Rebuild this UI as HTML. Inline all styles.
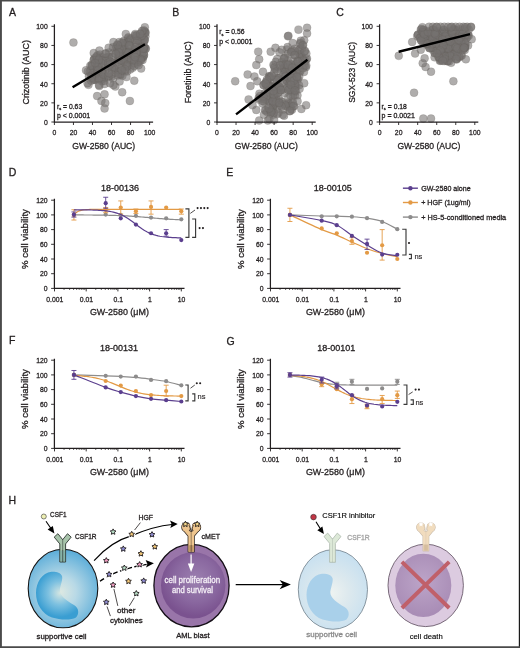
<!DOCTYPE html><html><head><meta charset="utf-8"><style>html,body{margin:0;padding:0;background:#fff;}svg{display:block;will-change:transform;} text{font-family:"Liberation Sans", sans-serif;}</style></head><body><svg width="520" height="648" viewBox="0 0 520 648" font-family='"Liberation Sans", sans-serif'>
<rect x="0" y="0" width="520" height="648" fill="#fff"/>
<text x="9" y="16.2" font-size="10.5" text-anchor="start" fill="#231f20" font-weight="normal" stroke="#231f20" stroke-width="0.3">A</text>
<text x="172.2" y="16.2" font-size="10.5" text-anchor="start" fill="#231f20" font-weight="normal" stroke="#231f20" stroke-width="0.3">B</text>
<text x="336.3" y="16.2" font-size="10.5" text-anchor="start" fill="#231f20" font-weight="normal" stroke="#231f20" stroke-width="0.3">C</text>
<text x="8.7" y="176.3" font-size="10.5" text-anchor="start" fill="#231f20" font-weight="normal" stroke="#231f20" stroke-width="0.3">D</text>
<text x="226.3" y="176.3" font-size="10.5" text-anchor="start" fill="#231f20" font-weight="normal" stroke="#231f20" stroke-width="0.3">E</text>
<text x="9.0" y="344.3" font-size="10.5" text-anchor="start" fill="#231f20" font-weight="normal" stroke="#231f20" stroke-width="0.3">F</text>
<text x="226.6" y="344.6" font-size="10.5" text-anchor="start" fill="#231f20" font-weight="normal" stroke="#231f20" stroke-width="0.3">G</text>
<g fill="#767270" fill-opacity="0.58" stroke="#5a5654" stroke-opacity="0.35" stroke-width="0.5"><circle cx="113.47" cy="52.88" r="4.0"/><circle cx="141.32" cy="57.74" r="4.0"/><circle cx="116.74" cy="51.45" r="4.0"/><circle cx="97.67" cy="55.35" r="4.0"/><circle cx="123.95" cy="40.83" r="4.0"/><circle cx="92.32" cy="66.13" r="4.0"/><circle cx="144.74" cy="31.95" r="4.0"/><circle cx="125.37" cy="49.99" r="4.0"/><circle cx="97.99" cy="69.30" r="4.0"/><circle cx="117.41" cy="48.72" r="4.0"/><circle cx="116.27" cy="47.57" r="4.0"/><circle cx="113.76" cy="67.43" r="4.0"/><circle cx="136.36" cy="45.23" r="4.0"/><circle cx="105.38" cy="69.94" r="4.0"/><circle cx="103.83" cy="78.18" r="4.0"/><circle cx="132.00" cy="61.11" r="4.0"/><circle cx="136.74" cy="61.83" r="4.0"/><circle cx="143.32" cy="38.02" r="4.0"/><circle cx="140.50" cy="57.52" r="4.0"/><circle cx="132.72" cy="67.86" r="4.0"/><circle cx="91.91" cy="64.62" r="4.0"/><circle cx="143.67" cy="42.63" r="4.0"/><circle cx="93.73" cy="69.07" r="4.0"/><circle cx="92.73" cy="78.71" r="4.0"/><circle cx="119.78" cy="58.68" r="4.0"/><circle cx="93.64" cy="60.06" r="4.0"/><circle cx="99.33" cy="67.86" r="4.0"/><circle cx="144.08" cy="40.29" r="4.0"/><circle cx="99.20" cy="61.43" r="4.0"/><circle cx="137.20" cy="48.64" r="4.0"/><circle cx="99.35" cy="68.46" r="4.0"/><circle cx="132.38" cy="64.81" r="4.0"/><circle cx="104.26" cy="78.01" r="4.0"/><circle cx="108.71" cy="58.39" r="4.0"/><circle cx="143.38" cy="56.81" r="4.0"/><circle cx="97.56" cy="73.84" r="4.0"/><circle cx="140.39" cy="39.54" r="4.0"/><circle cx="101.49" cy="72.00" r="4.0"/><circle cx="138.84" cy="50.62" r="4.0"/><circle cx="111.64" cy="76.44" r="4.0"/><circle cx="121.97" cy="66.64" r="4.0"/><circle cx="90.83" cy="70.00" r="4.0"/><circle cx="123.03" cy="67.32" r="4.0"/><circle cx="113.08" cy="78.68" r="4.0"/><circle cx="97.17" cy="62.75" r="4.0"/><circle cx="120.54" cy="75.01" r="4.0"/><circle cx="144.64" cy="47.86" r="4.0"/><circle cx="127.57" cy="51.60" r="4.0"/><circle cx="95.05" cy="79.99" r="4.0"/><circle cx="130.27" cy="45.44" r="4.0"/><circle cx="139.94" cy="36.79" r="4.0"/><circle cx="137.73" cy="52.20" r="4.0"/><circle cx="123.66" cy="62.05" r="4.0"/><circle cx="121.16" cy="50.34" r="4.0"/><circle cx="145.40" cy="36.34" r="4.0"/><circle cx="129.75" cy="61.73" r="4.0"/><circle cx="130.15" cy="51.78" r="4.0"/><circle cx="115.16" cy="69.91" r="4.0"/><circle cx="127.99" cy="56.11" r="4.0"/><circle cx="101.87" cy="81.22" r="4.0"/><circle cx="98.72" cy="73.04" r="4.0"/><circle cx="140.23" cy="47.70" r="4.0"/><circle cx="98.48" cy="59.54" r="4.0"/><circle cx="138.72" cy="61.94" r="4.0"/><circle cx="121.19" cy="65.45" r="4.0"/><circle cx="136.18" cy="37.95" r="4.0"/><circle cx="103.11" cy="73.07" r="4.0"/><circle cx="113.37" cy="67.59" r="4.0"/><circle cx="99.40" cy="60.41" r="4.0"/><circle cx="123.70" cy="56.28" r="4.0"/><circle cx="128.59" cy="52.32" r="4.0"/><circle cx="95.08" cy="79.38" r="4.0"/><circle cx="123.90" cy="58.73" r="4.0"/><circle cx="123.95" cy="47.95" r="4.0"/><circle cx="127.17" cy="71.50" r="4.0"/><circle cx="114.81" cy="72.57" r="4.0"/><circle cx="102.84" cy="63.94" r="4.0"/><circle cx="127.93" cy="54.91" r="4.0"/><circle cx="123.04" cy="42.73" r="4.0"/><circle cx="141.81" cy="44.47" r="4.0"/><circle cx="94.44" cy="58.37" r="4.0"/><circle cx="109.01" cy="52.41" r="4.0"/><circle cx="138.67" cy="40.63" r="4.0"/><circle cx="142.50" cy="57.84" r="4.0"/><circle cx="125.21" cy="71.22" r="4.0"/><circle cx="129.38" cy="39.52" r="4.0"/><circle cx="124.64" cy="44.72" r="4.0"/><circle cx="144.64" cy="31.30" r="4.0"/><circle cx="137.28" cy="63.80" r="4.0"/><circle cx="119.25" cy="42.11" r="4.0"/><circle cx="95.06" cy="74.12" r="4.0"/><circle cx="117.26" cy="44.41" r="4.0"/><circle cx="136.35" cy="46.18" r="4.0"/><circle cx="142.59" cy="56.35" r="4.0"/><circle cx="99.84" cy="54.59" r="4.0"/><circle cx="124.48" cy="54.79" r="4.0"/><circle cx="136.56" cy="52.87" r="4.0"/><circle cx="105.17" cy="62.11" r="4.0"/><circle cx="136.66" cy="35.27" r="4.0"/><circle cx="143.93" cy="54.72" r="4.0"/><circle cx="120.59" cy="71.42" r="4.0"/><circle cx="118.40" cy="55.80" r="4.0"/><circle cx="143.99" cy="55.14" r="4.0"/><circle cx="119.99" cy="56.43" r="4.0"/><circle cx="118.57" cy="60.42" r="4.0"/><circle cx="143.25" cy="34.09" r="4.0"/><circle cx="102.66" cy="57.35" r="4.0"/><circle cx="94.26" cy="59.39" r="4.0"/><circle cx="134.91" cy="35.27" r="4.0"/><circle cx="114.89" cy="65.41" r="4.0"/><circle cx="98.22" cy="70.06" r="4.0"/><circle cx="127.32" cy="65.16" r="4.0"/><circle cx="101.56" cy="71.59" r="4.0"/><circle cx="118.07" cy="59.23" r="4.0"/><circle cx="108.95" cy="60.44" r="4.0"/><circle cx="118.01" cy="73.55" r="4.0"/><circle cx="124.45" cy="54.44" r="4.0"/><circle cx="137.01" cy="50.19" r="4.0"/><circle cx="130.49" cy="39.92" r="4.0"/><circle cx="102.08" cy="76.79" r="4.0"/><circle cx="135.89" cy="60.02" r="4.0"/><circle cx="87.82" cy="71.42" r="4.0"/><circle cx="116.44" cy="46.37" r="4.0"/><circle cx="97.92" cy="78.16" r="4.0"/><circle cx="93.03" cy="79.87" r="4.0"/><circle cx="119.33" cy="55.20" r="4.0"/><circle cx="120.34" cy="74.23" r="4.0"/><circle cx="97.66" cy="71.27" r="4.0"/><circle cx="106.06" cy="57.67" r="4.0"/><circle cx="117.18" cy="59.58" r="4.0"/><circle cx="128.15" cy="38.18" r="4.0"/><circle cx="97.47" cy="58.35" r="4.0"/><circle cx="130.41" cy="60.86" r="4.0"/><circle cx="98.29" cy="73.28" r="4.0"/><circle cx="139.49" cy="40.38" r="4.0"/><circle cx="128.36" cy="37.33" r="4.0"/><circle cx="123.92" cy="60.90" r="4.0"/><circle cx="122.16" cy="55.75" r="4.0"/><circle cx="144.77" cy="40.21" r="4.0"/><circle cx="130.71" cy="41.60" r="4.0"/><circle cx="134.85" cy="60.84" r="4.0"/><circle cx="139.69" cy="36.34" r="4.0"/><circle cx="127.78" cy="42.16" r="4.0"/><circle cx="131.93" cy="60.84" r="4.0"/><circle cx="106.94" cy="57.58" r="4.0"/><circle cx="124.47" cy="49.56" r="4.0"/><circle cx="126.08" cy="64.35" r="4.0"/><circle cx="125.71" cy="52.37" r="4.0"/><circle cx="118.23" cy="61.67" r="4.0"/><circle cx="145.79" cy="48.62" r="4.0"/><circle cx="128.16" cy="42.44" r="4.0"/><circle cx="123.09" cy="43.63" r="4.0"/><circle cx="101.92" cy="61.05" r="4.0"/><circle cx="89.75" cy="71.71" r="4.0"/><circle cx="108.94" cy="76.72" r="4.0"/><circle cx="119.23" cy="55.56" r="4.0"/><circle cx="143.85" cy="52.45" r="4.0"/><circle cx="145.50" cy="48.83" r="4.0"/><circle cx="122.04" cy="42.57" r="4.0"/><circle cx="96.21" cy="57.43" r="4.0"/><circle cx="96.75" cy="56.20" r="4.0"/><circle cx="142.56" cy="60.06" r="4.0"/><circle cx="117.86" cy="50.91" r="4.0"/><circle cx="108.35" cy="67.04" r="4.0"/><circle cx="125.44" cy="52.83" r="4.0"/><circle cx="104.24" cy="81.08" r="4.0"/><circle cx="101.23" cy="79.60" r="4.0"/><circle cx="145.13" cy="33.00" r="4.0"/><circle cx="112.12" cy="57.12" r="4.0"/><circle cx="129.43" cy="57.60" r="4.0"/><circle cx="144.54" cy="39.60" r="4.0"/><circle cx="122.40" cy="75.86" r="4.0"/><circle cx="123.61" cy="58.26" r="4.0"/><circle cx="98.79" cy="79.12" r="4.0"/><circle cx="117.94" cy="75.38" r="4.0"/><circle cx="112.91" cy="47.29" r="4.0"/><circle cx="113.66" cy="68.26" r="4.0"/><circle cx="121.13" cy="60.13" r="4.0"/><circle cx="132.69" cy="54.38" r="4.0"/><circle cx="145.65" cy="32.58" r="4.0"/><circle cx="130.11" cy="69.49" r="4.0"/><circle cx="133.06" cy="49.51" r="4.0"/><circle cx="107.97" cy="67.77" r="4.0"/><circle cx="127.20" cy="52.61" r="4.0"/><circle cx="121.69" cy="49.09" r="4.0"/><circle cx="140.82" cy="36.39" r="4.0"/><circle cx="102.76" cy="59.83" r="4.0"/><circle cx="119.27" cy="49.19" r="4.0"/><circle cx="108.79" cy="57.08" r="4.0"/><circle cx="99.20" cy="64.04" r="4.0"/><circle cx="130.73" cy="38.47" r="4.0"/><circle cx="91.16" cy="75.62" r="4.0"/><circle cx="134.53" cy="49.57" r="4.0"/><circle cx="111.82" cy="68.47" r="4.0"/><circle cx="134.57" cy="62.74" r="4.0"/><circle cx="105.97" cy="53.45" r="4.0"/><circle cx="112.01" cy="62.72" r="4.0"/><circle cx="91.40" cy="77.52" r="4.0"/><circle cx="120.07" cy="56.75" r="4.0"/><circle cx="127.22" cy="66.36" r="4.0"/><circle cx="91.59" cy="66.11" r="4.0"/><circle cx="129.56" cy="45.94" r="4.0"/><circle cx="103.47" cy="74.42" r="4.0"/><circle cx="108.39" cy="75.74" r="4.0"/><circle cx="128.63" cy="52.39" r="4.0"/><circle cx="140.98" cy="33.23" r="4.0"/><circle cx="140.68" cy="59.17" r="4.0"/><circle cx="134.17" cy="66.06" r="4.0"/><circle cx="105.52" cy="61.16" r="4.0"/><circle cx="141.94" cy="35.57" r="4.0"/><circle cx="101.42" cy="63.11" r="4.0"/><circle cx="108.35" cy="63.03" r="4.0"/><circle cx="110.12" cy="61.78" r="4.0"/><circle cx="133.82" cy="53.87" r="4.0"/><circle cx="136.13" cy="52.72" r="4.0"/><circle cx="118.89" cy="52.48" r="4.0"/><circle cx="143.81" cy="48.15" r="4.0"/><circle cx="91.73" cy="77.59" r="4.0"/><circle cx="125.07" cy="69.12" r="4.0"/><circle cx="110.05" cy="64.35" r="4.0"/><circle cx="143.92" cy="47.06" r="4.0"/><circle cx="115.91" cy="54.04" r="4.0"/><circle cx="129.32" cy="45.21" r="4.0"/><circle cx="140.77" cy="60.59" r="4.0"/><circle cx="135.54" cy="47.35" r="4.0"/><circle cx="137.15" cy="40.16" r="4.0"/><circle cx="135.98" cy="35.88" r="4.0"/><circle cx="143.30" cy="48.72" r="4.0"/><circle cx="117.69" cy="45.11" r="4.0"/><circle cx="134.12" cy="60.02" r="4.0"/><circle cx="111.59" cy="74.25" r="4.0"/><circle cx="108.93" cy="73.14" r="4.0"/><circle cx="98.83" cy="59.85" r="4.0"/><circle cx="90.26" cy="65.87" r="4.0"/><circle cx="88.91" cy="76.19" r="4.0"/><circle cx="97.66" cy="70.57" r="4.0"/><circle cx="121.87" cy="70.23" r="4.0"/><circle cx="97.69" cy="67.28" r="4.0"/><circle cx="105.17" cy="53.47" r="4.0"/><circle cx="135.00" cy="57.03" r="4.0"/><circle cx="73.44" cy="42.57" r="4.0"/><circle cx="86.01" cy="70.32" r="4.0"/><circle cx="88.48" cy="84.87" r="4.0"/><circle cx="99.33" cy="86.11" r="4.0"/><circle cx="104.57" cy="84.01" r="4.0"/><circle cx="97.14" cy="96.07" r="4.0"/><circle cx="104.57" cy="94.34" r="4.0"/><circle cx="101.43" cy="100.95" r="4.0"/><circle cx="105.24" cy="103.05" r="4.0"/><circle cx="104.57" cy="108.51" r="4.0"/><circle cx="115.33" cy="86.59" r="4.0"/><circle cx="119.61" cy="81.42" r="4.0"/><circle cx="122.18" cy="92.24" r="4.0"/><circle cx="134.27" cy="80.66" r="4.0"/><circle cx="129.89" cy="100.95" r="4.0"/><circle cx="141.13" cy="68.60" r="4.0"/><circle cx="138.56" cy="65.15" r="4.0"/><circle cx="91.05" cy="80.66" r="4.0"/><circle cx="126.47" cy="77.12" r="4.0"/><circle cx="110.09" cy="83.24" r="4.0"/><circle cx="93.72" cy="53.00" r="4.0"/><circle cx="99.43" cy="50.61" r="4.0"/><circle cx="108.66" cy="47.74" r="4.0"/><circle cx="113.42" cy="42.09" r="4.0"/><circle cx="95.15" cy="62.95" r="4.0"/><circle cx="87.53" cy="83.15" r="4.0"/><circle cx="98.95" cy="85.06" r="4.0"/><circle cx="113.42" cy="85.06" r="4.0"/><circle cx="125.80" cy="33.96" r="4.0"/><circle cx="135.32" cy="33.96" r="4.0"/><circle cx="143.60" cy="30.13" r="4.0"/><circle cx="144.84" cy="27.26" r="4.0"/><circle cx="141.98" cy="31.09" r="4.0"/><circle cx="140.08" cy="33.96" r="4.0"/></g>
<line x1="72.58" y1="87.17" x2="144.94" y2="44.20" stroke="#000" stroke-width="2.4"/>
<path d="M54.4 24.299999999999997 V122.0 H153.1" fill="none" stroke="#231f20" stroke-width="1.25"/>
<path d="M51.4 122.00H54.4M54.40 122.0V125.0M51.4 102.86H54.4M73.44 122.0V125.0M51.4 83.72H54.4M92.48 122.0V125.0M51.4 64.58H54.4M111.52 122.0V125.0M51.4 45.44H54.4M130.56 122.0V125.0M51.4 26.30H54.4M149.60 122.0V125.0" stroke="#231f20" stroke-width="0.9"/>
<text x="47.70" y="124.80" font-size="7.9" text-anchor="end" fill="#231f20" font-weight="normal" textLength="3.80" lengthAdjust="spacingAndGlyphs" stroke="#231f20" stroke-width="0.3">0</text>
<text x="54.40" y="135.20" font-size="7.9" text-anchor="middle" fill="#231f20" font-weight="normal" textLength="3.80" lengthAdjust="spacingAndGlyphs" stroke="#231f20" stroke-width="0.3">0</text>
<text x="47.70" y="105.66" font-size="7.9" text-anchor="end" fill="#231f20" font-weight="normal" textLength="7.60" lengthAdjust="spacingAndGlyphs" stroke="#231f20" stroke-width="0.3">20</text>
<text x="73.44" y="135.20" font-size="7.9" text-anchor="middle" fill="#231f20" font-weight="normal" textLength="7.60" lengthAdjust="spacingAndGlyphs" stroke="#231f20" stroke-width="0.3">20</text>
<text x="47.70" y="86.52" font-size="7.9" text-anchor="end" fill="#231f20" font-weight="normal" textLength="7.60" lengthAdjust="spacingAndGlyphs" stroke="#231f20" stroke-width="0.3">40</text>
<text x="92.48" y="135.20" font-size="7.9" text-anchor="middle" fill="#231f20" font-weight="normal" textLength="7.60" lengthAdjust="spacingAndGlyphs" stroke="#231f20" stroke-width="0.3">40</text>
<text x="47.70" y="67.38" font-size="7.9" text-anchor="end" fill="#231f20" font-weight="normal" textLength="7.60" lengthAdjust="spacingAndGlyphs" stroke="#231f20" stroke-width="0.3">60</text>
<text x="111.52" y="135.20" font-size="7.9" text-anchor="middle" fill="#231f20" font-weight="normal" textLength="7.60" lengthAdjust="spacingAndGlyphs" stroke="#231f20" stroke-width="0.3">60</text>
<text x="47.70" y="48.24" font-size="7.9" text-anchor="end" fill="#231f20" font-weight="normal" textLength="7.60" lengthAdjust="spacingAndGlyphs" stroke="#231f20" stroke-width="0.3">80</text>
<text x="130.56" y="135.20" font-size="7.9" text-anchor="middle" fill="#231f20" font-weight="normal" textLength="7.60" lengthAdjust="spacingAndGlyphs" stroke="#231f20" stroke-width="0.3">80</text>
<text x="47.70" y="29.10" font-size="7.9" text-anchor="end" fill="#231f20" font-weight="normal" textLength="11.40" lengthAdjust="spacingAndGlyphs" stroke="#231f20" stroke-width="0.3">100</text>
<text x="149.60" y="135.20" font-size="7.9" text-anchor="middle" fill="#231f20" font-weight="normal" textLength="11.40" lengthAdjust="spacingAndGlyphs" stroke="#231f20" stroke-width="0.3">100</text>
<text x="103.70" y="149.00" font-size="9.4" text-anchor="middle" fill="#231f20" font-weight="normal" textLength="63" lengthAdjust="spacingAndGlyphs" stroke="#231f20" stroke-width="0.3">GW-2580 (AUC)</text>
<text x="29" y="72.30" font-size="9.4" text-anchor="middle" fill="#231f20" font-weight="normal" textLength="64.5" lengthAdjust="spacingAndGlyphs" transform="rotate(-90 29 72.30)" stroke="#231f20" stroke-width="0.3">Crizotinib (AUC)</text>
<text x="56.9" y="108.6" font-size="7.3" fill="#231f20" stroke="#231f20" stroke-width="0.3" textLength="25.3" lengthAdjust="spacingAndGlyphs">r<tspan font-size="4.3" dy="1.6">s</tspan><tspan dy="-1.6"> = 0.63</tspan></text>
<text x="56.9" y="117.90" font-size="7.3" text-anchor="start" fill="#231f20" font-weight="normal" textLength="33.3" lengthAdjust="spacingAndGlyphs" stroke="#231f20" stroke-width="0.3">p &lt; 0.0001</text>
<g fill="#767270" fill-opacity="0.58" stroke="#5a5654" stroke-opacity="0.35" stroke-width="0.5"><circle cx="281.40" cy="67.63" r="4.0"/><circle cx="290.77" cy="106.01" r="4.0"/><circle cx="291.95" cy="71.80" r="4.0"/><circle cx="285.48" cy="67.34" r="4.0"/><circle cx="265.32" cy="83.83" r="4.0"/><circle cx="274.68" cy="86.48" r="4.0"/><circle cx="283.08" cy="109.86" r="4.0"/><circle cx="263.72" cy="85.09" r="4.0"/><circle cx="264.82" cy="93.34" r="4.0"/><circle cx="288.57" cy="104.45" r="4.0"/><circle cx="277.78" cy="85.42" r="4.0"/><circle cx="287.33" cy="81.10" r="4.0"/><circle cx="277.00" cy="114.37" r="4.0"/><circle cx="305.90" cy="67.17" r="4.0"/><circle cx="275.62" cy="89.57" r="4.0"/><circle cx="291.93" cy="66.41" r="4.0"/><circle cx="263.78" cy="99.12" r="4.0"/><circle cx="275.97" cy="78.52" r="4.0"/><circle cx="297.79" cy="79.36" r="4.0"/><circle cx="279.23" cy="77.95" r="4.0"/><circle cx="269.07" cy="84.79" r="4.0"/><circle cx="277.18" cy="59.09" r="4.0"/><circle cx="260.02" cy="96.02" r="4.0"/><circle cx="275.03" cy="69.16" r="4.0"/><circle cx="268.42" cy="95.63" r="4.0"/><circle cx="276.01" cy="102.53" r="4.0"/><circle cx="294.78" cy="48.65" r="4.0"/><circle cx="295.86" cy="91.16" r="4.0"/><circle cx="282.82" cy="114.86" r="4.0"/><circle cx="298.85" cy="68.97" r="4.0"/><circle cx="269.43" cy="77.34" r="4.0"/><circle cx="281.54" cy="69.90" r="4.0"/><circle cx="283.38" cy="64.76" r="4.0"/><circle cx="292.64" cy="100.68" r="4.0"/><circle cx="272.14" cy="97.63" r="4.0"/><circle cx="291.59" cy="64.90" r="4.0"/><circle cx="278.75" cy="98.66" r="4.0"/><circle cx="285.57" cy="70.07" r="4.0"/><circle cx="303.15" cy="44.92" r="4.0"/><circle cx="295.36" cy="85.50" r="4.0"/><circle cx="286.96" cy="49.47" r="4.0"/><circle cx="296.77" cy="73.39" r="4.0"/><circle cx="275.19" cy="89.17" r="4.0"/><circle cx="294.16" cy="74.64" r="4.0"/><circle cx="302.36" cy="57.17" r="4.0"/><circle cx="302.05" cy="48.76" r="4.0"/><circle cx="284.35" cy="57.81" r="4.0"/><circle cx="276.75" cy="109.31" r="4.0"/><circle cx="275.47" cy="93.37" r="4.0"/><circle cx="303.84" cy="65.27" r="4.0"/><circle cx="284.67" cy="70.26" r="4.0"/><circle cx="292.44" cy="87.26" r="4.0"/><circle cx="270.22" cy="86.31" r="4.0"/><circle cx="274.03" cy="65.55" r="4.0"/><circle cx="265.15" cy="109.89" r="4.0"/><circle cx="273.48" cy="64.77" r="4.0"/><circle cx="295.32" cy="67.48" r="4.0"/><circle cx="279.89" cy="103.27" r="4.0"/><circle cx="290.82" cy="91.20" r="4.0"/><circle cx="269.86" cy="92.23" r="4.0"/><circle cx="275.82" cy="95.79" r="4.0"/><circle cx="268.05" cy="84.40" r="4.0"/><circle cx="282.69" cy="64.60" r="4.0"/><circle cx="266.15" cy="82.00" r="4.0"/><circle cx="287.84" cy="53.80" r="4.0"/><circle cx="270.42" cy="82.38" r="4.0"/><circle cx="299.97" cy="54.64" r="4.0"/><circle cx="269.33" cy="76.53" r="4.0"/><circle cx="295.40" cy="87.17" r="4.0"/><circle cx="291.11" cy="67.19" r="4.0"/><circle cx="291.47" cy="90.53" r="4.0"/><circle cx="293.98" cy="92.62" r="4.0"/><circle cx="282.64" cy="89.74" r="4.0"/><circle cx="273.22" cy="106.51" r="4.0"/><circle cx="269.24" cy="76.06" r="4.0"/><circle cx="270.52" cy="113.22" r="4.0"/><circle cx="297.47" cy="95.35" r="4.0"/><circle cx="303.94" cy="72.00" r="4.0"/><circle cx="299.38" cy="71.28" r="4.0"/><circle cx="296.53" cy="85.89" r="4.0"/><circle cx="288.39" cy="97.02" r="4.0"/><circle cx="278.09" cy="88.33" r="4.0"/><circle cx="277.01" cy="86.85" r="4.0"/><circle cx="268.24" cy="97.65" r="4.0"/><circle cx="300.88" cy="55.42" r="4.0"/><circle cx="275.74" cy="61.87" r="4.0"/><circle cx="273.14" cy="106.41" r="4.0"/><circle cx="300.48" cy="54.54" r="4.0"/><circle cx="259.42" cy="93.65" r="4.0"/><circle cx="272.71" cy="102.47" r="4.0"/><circle cx="267.21" cy="93.38" r="4.0"/><circle cx="300.33" cy="71.40" r="4.0"/><circle cx="284.41" cy="83.21" r="4.0"/><circle cx="283.99" cy="68.07" r="4.0"/><circle cx="297.33" cy="78.97" r="4.0"/><circle cx="289.26" cy="81.80" r="4.0"/><circle cx="289.19" cy="87.68" r="4.0"/><circle cx="278.48" cy="78.12" r="4.0"/><circle cx="293.14" cy="95.88" r="4.0"/><circle cx="300.00" cy="65.17" r="4.0"/><circle cx="304.93" cy="65.76" r="4.0"/><circle cx="279.07" cy="86.38" r="4.0"/><circle cx="287.90" cy="60.44" r="4.0"/><circle cx="258.63" cy="98.04" r="4.0"/><circle cx="305.13" cy="60.97" r="4.0"/><circle cx="281.44" cy="101.24" r="4.0"/><circle cx="295.18" cy="85.07" r="4.0"/><circle cx="284.74" cy="93.09" r="4.0"/><circle cx="270.03" cy="110.14" r="4.0"/><circle cx="306.41" cy="59.59" r="4.0"/><circle cx="287.53" cy="66.76" r="4.0"/><circle cx="258.83" cy="99.60" r="4.0"/><circle cx="281.78" cy="62.14" r="4.0"/><circle cx="298.55" cy="60.18" r="4.0"/><circle cx="274.81" cy="88.19" r="4.0"/><circle cx="300.34" cy="42.87" r="4.0"/><circle cx="281.91" cy="102.12" r="4.0"/><circle cx="288.72" cy="76.69" r="4.0"/><circle cx="275.88" cy="99.46" r="4.0"/><circle cx="277.04" cy="70.99" r="4.0"/><circle cx="304.73" cy="61.11" r="4.0"/><circle cx="270.54" cy="85.44" r="4.0"/><circle cx="289.08" cy="103.76" r="4.0"/><circle cx="284.99" cy="72.22" r="4.0"/><circle cx="286.41" cy="88.43" r="4.0"/><circle cx="273.35" cy="90.19" r="4.0"/><circle cx="282.76" cy="82.35" r="4.0"/><circle cx="266.67" cy="86.84" r="4.0"/><circle cx="268.23" cy="92.61" r="4.0"/><circle cx="276.15" cy="90.56" r="4.0"/><circle cx="274.45" cy="67.62" r="4.0"/><circle cx="277.62" cy="78.19" r="4.0"/><circle cx="289.85" cy="111.15" r="4.0"/><circle cx="291.02" cy="109.10" r="4.0"/><circle cx="266.60" cy="83.97" r="4.0"/><circle cx="269.61" cy="102.01" r="4.0"/><circle cx="289.38" cy="69.14" r="4.0"/><circle cx="287.02" cy="80.94" r="4.0"/><circle cx="280.95" cy="89.85" r="4.0"/><circle cx="293.15" cy="60.62" r="4.0"/><circle cx="269.90" cy="77.43" r="4.0"/><circle cx="293.70" cy="79.25" r="4.0"/><circle cx="290.57" cy="70.70" r="4.0"/><circle cx="293.11" cy="90.15" r="4.0"/><circle cx="273.19" cy="114.80" r="4.0"/><circle cx="301.70" cy="57.76" r="4.0"/><circle cx="299.08" cy="85.27" r="4.0"/><circle cx="273.57" cy="97.32" r="4.0"/><circle cx="278.43" cy="112.78" r="4.0"/><circle cx="273.23" cy="104.82" r="4.0"/><circle cx="276.76" cy="80.09" r="4.0"/><circle cx="287.59" cy="47.09" r="4.0"/><circle cx="265.36" cy="99.64" r="4.0"/><circle cx="300.24" cy="48.83" r="4.0"/><circle cx="276.15" cy="102.58" r="4.0"/><circle cx="302.69" cy="59.58" r="4.0"/><circle cx="285.16" cy="57.64" r="4.0"/><circle cx="270.95" cy="76.85" r="4.0"/><circle cx="288.37" cy="102.82" r="4.0"/><circle cx="299.14" cy="54.07" r="4.0"/><circle cx="289.68" cy="84.14" r="4.0"/><circle cx="275.76" cy="86.81" r="4.0"/><circle cx="283.72" cy="74.77" r="4.0"/><circle cx="299.36" cy="49.82" r="4.0"/><circle cx="285.07" cy="76.09" r="4.0"/><circle cx="299.59" cy="88.87" r="4.0"/><circle cx="297.10" cy="77.30" r="4.0"/><circle cx="268.96" cy="86.27" r="4.0"/><circle cx="297.27" cy="60.97" r="4.0"/><circle cx="283.82" cy="58.71" r="4.0"/><circle cx="291.30" cy="51.84" r="4.0"/><circle cx="289.97" cy="89.56" r="4.0"/><circle cx="272.23" cy="110.52" r="4.0"/><circle cx="287.66" cy="106.64" r="4.0"/><circle cx="300.23" cy="43.74" r="4.0"/><circle cx="269.13" cy="86.63" r="4.0"/><circle cx="290.49" cy="95.58" r="4.0"/><circle cx="286.03" cy="64.37" r="4.0"/><circle cx="294.93" cy="55.21" r="4.0"/><circle cx="294.89" cy="95.36" r="4.0"/><circle cx="295.12" cy="84.31" r="4.0"/><circle cx="288.61" cy="89.96" r="4.0"/><circle cx="278.48" cy="92.39" r="4.0"/><circle cx="285.88" cy="76.47" r="4.0"/><circle cx="290.52" cy="63.97" r="4.0"/><circle cx="268.21" cy="107.57" r="4.0"/><circle cx="266.79" cy="84.52" r="4.0"/><circle cx="298.23" cy="66.00" r="4.0"/><circle cx="306.98" cy="58.55" r="4.0"/><circle cx="273.69" cy="112.80" r="4.0"/><circle cx="305.08" cy="50.95" r="4.0"/><circle cx="290.47" cy="80.86" r="4.0"/><circle cx="268.17" cy="100.29" r="4.0"/><circle cx="281.62" cy="49.82" r="4.0"/><circle cx="291.11" cy="81.76" r="4.0"/><circle cx="296.13" cy="63.99" r="4.0"/><circle cx="306.32" cy="53.60" r="4.0"/><circle cx="291.33" cy="72.63" r="4.0"/><circle cx="266.46" cy="81.48" r="4.0"/><circle cx="280.08" cy="105.14" r="4.0"/><circle cx="268.07" cy="85.98" r="4.0"/><circle cx="291.63" cy="78.13" r="4.0"/><circle cx="279.41" cy="87.44" r="4.0"/><circle cx="302.84" cy="68.18" r="4.0"/><circle cx="289.97" cy="105.90" r="4.0"/><circle cx="284.67" cy="104.19" r="4.0"/><circle cx="274.06" cy="72.87" r="4.0"/><circle cx="266.53" cy="99.26" r="4.0"/><circle cx="293.89" cy="80.50" r="4.0"/><circle cx="287.95" cy="64.94" r="4.0"/><circle cx="285.39" cy="105.56" r="4.0"/><circle cx="271.66" cy="75.71" r="4.0"/><circle cx="270.95" cy="110.75" r="4.0"/><circle cx="266.18" cy="96.38" r="4.0"/><circle cx="304.51" cy="51.16" r="4.0"/><circle cx="290.93" cy="84.84" r="4.0"/><circle cx="264.37" cy="101.73" r="4.0"/><circle cx="279.47" cy="52.34" r="4.0"/><circle cx="267.15" cy="111.98" r="4.0"/><circle cx="294.08" cy="106.15" r="4.0"/><circle cx="272.82" cy="101.16" r="4.0"/><circle cx="299.24" cy="76.69" r="4.0"/><circle cx="262.50" cy="103.54" r="4.0"/><circle cx="265.59" cy="110.69" r="4.0"/><circle cx="294.48" cy="51.14" r="4.0"/><circle cx="263.39" cy="96.25" r="4.0"/><circle cx="292.22" cy="50.63" r="4.0"/><circle cx="291.40" cy="52.29" r="4.0"/><circle cx="292.22" cy="67.85" r="4.0"/><circle cx="292.01" cy="109.74" r="4.0"/><circle cx="279.97" cy="65.38" r="4.0"/><circle cx="294.59" cy="55.04" r="4.0"/><circle cx="273.47" cy="94.42" r="4.0"/><circle cx="277.39" cy="93.32" r="4.0"/><circle cx="293.07" cy="103.68" r="4.0"/><circle cx="280.80" cy="90.14" r="4.0"/><circle cx="273.36" cy="91.02" r="4.0"/><circle cx="263.50" cy="85.05" r="4.0"/><circle cx="271.23" cy="112.19" r="4.0"/><circle cx="297.97" cy="61.59" r="4.0"/><circle cx="269.30" cy="108.53" r="4.0"/><circle cx="306.29" cy="65.61" r="4.0"/><circle cx="293.53" cy="105.94" r="4.0"/><circle cx="296.89" cy="76.73" r="4.0"/><circle cx="262.51" cy="100.96" r="4.0"/><circle cx="294.87" cy="90.38" r="4.0"/><circle cx="281.57" cy="106.42" r="4.0"/><circle cx="266.92" cy="79.57" r="4.0"/><circle cx="279.09" cy="102.78" r="4.0"/><circle cx="265.57" cy="83.48" r="4.0"/><circle cx="235.18" cy="81.23" r="4.0"/><circle cx="247.65" cy="74.53" r="4.0"/><circle cx="250.51" cy="86.02" r="4.0"/><circle cx="258.22" cy="51.66" r="4.0"/><circle cx="259.17" cy="59.32" r="4.0"/><circle cx="256.32" cy="65.06" r="4.0"/><circle cx="262.98" cy="71.76" r="4.0"/><circle cx="254.41" cy="76.54" r="4.0"/><circle cx="257.27" cy="81.23" r="4.0"/><circle cx="270.69" cy="51.66" r="4.0"/><circle cx="275.45" cy="47.83" r="4.0"/><circle cx="287.92" cy="36.35" r="4.0"/><circle cx="292.68" cy="43.05" r="4.0"/><circle cx="298.49" cy="29.65" r="4.0"/><circle cx="307.06" cy="27.74" r="4.0"/><circle cx="307.06" cy="33.48" r="4.0"/><circle cx="304.20" cy="40.18" r="4.0"/><circle cx="304.20" cy="83.15" r="4.0"/><circle cx="248.61" cy="99.41" r="4.0"/><circle cx="252.51" cy="105.16" r="4.0"/><circle cx="256.32" cy="109.94" r="4.0"/><circle cx="263.93" cy="114.73" r="4.0"/><circle cx="259.17" cy="120.47" r="4.0"/><circle cx="267.84" cy="120.47" r="4.0"/><circle cx="284.12" cy="115.68" r="4.0"/><circle cx="289.83" cy="110.90" r="4.0"/><circle cx="297.54" cy="101.33" r="4.0"/><circle cx="301.35" cy="108.98" r="4.0"/><circle cx="306.11" cy="105.16" r="4.0"/><circle cx="288.40" cy="35.87" r="4.0"/><circle cx="300.78" cy="40.66" r="4.0"/><circle cx="302.68" cy="45.44" r="4.0"/><circle cx="269.36" cy="119.13" r="4.0"/><circle cx="274.12" cy="120.09" r="4.0"/></g>
<line x1="236.04" y1="114.34" x2="307.44" y2="59.80" stroke="#000" stroke-width="2.4"/>
<path d="M217.0 24.299999999999997 V122.0 H315.7" fill="none" stroke="#231f20" stroke-width="1.25"/>
<path d="M214.0 122.00H217.0M217.00 122.0V125.0M214.0 102.86H217.0M236.04 122.0V125.0M214.0 83.72H217.0M255.08 122.0V125.0M214.0 64.58H217.0M274.12 122.0V125.0M214.0 45.44H217.0M293.16 122.0V125.0M214.0 26.30H217.0M312.20 122.0V125.0" stroke="#231f20" stroke-width="0.9"/>
<text x="210.30" y="124.80" font-size="7.9" text-anchor="end" fill="#231f20" font-weight="normal" textLength="3.80" lengthAdjust="spacingAndGlyphs" stroke="#231f20" stroke-width="0.3">0</text>
<text x="217.00" y="135.20" font-size="7.9" text-anchor="middle" fill="#231f20" font-weight="normal" textLength="3.80" lengthAdjust="spacingAndGlyphs" stroke="#231f20" stroke-width="0.3">0</text>
<text x="210.30" y="105.66" font-size="7.9" text-anchor="end" fill="#231f20" font-weight="normal" textLength="7.60" lengthAdjust="spacingAndGlyphs" stroke="#231f20" stroke-width="0.3">20</text>
<text x="236.04" y="135.20" font-size="7.9" text-anchor="middle" fill="#231f20" font-weight="normal" textLength="7.60" lengthAdjust="spacingAndGlyphs" stroke="#231f20" stroke-width="0.3">20</text>
<text x="210.30" y="86.52" font-size="7.9" text-anchor="end" fill="#231f20" font-weight="normal" textLength="7.60" lengthAdjust="spacingAndGlyphs" stroke="#231f20" stroke-width="0.3">40</text>
<text x="255.08" y="135.20" font-size="7.9" text-anchor="middle" fill="#231f20" font-weight="normal" textLength="7.60" lengthAdjust="spacingAndGlyphs" stroke="#231f20" stroke-width="0.3">40</text>
<text x="210.30" y="67.38" font-size="7.9" text-anchor="end" fill="#231f20" font-weight="normal" textLength="7.60" lengthAdjust="spacingAndGlyphs" stroke="#231f20" stroke-width="0.3">60</text>
<text x="274.12" y="135.20" font-size="7.9" text-anchor="middle" fill="#231f20" font-weight="normal" textLength="7.60" lengthAdjust="spacingAndGlyphs" stroke="#231f20" stroke-width="0.3">60</text>
<text x="210.30" y="48.24" font-size="7.9" text-anchor="end" fill="#231f20" font-weight="normal" textLength="7.60" lengthAdjust="spacingAndGlyphs" stroke="#231f20" stroke-width="0.3">80</text>
<text x="293.16" y="135.20" font-size="7.9" text-anchor="middle" fill="#231f20" font-weight="normal" textLength="7.60" lengthAdjust="spacingAndGlyphs" stroke="#231f20" stroke-width="0.3">80</text>
<text x="210.30" y="29.10" font-size="7.9" text-anchor="end" fill="#231f20" font-weight="normal" textLength="11.40" lengthAdjust="spacingAndGlyphs" stroke="#231f20" stroke-width="0.3">100</text>
<text x="312.20" y="135.20" font-size="7.9" text-anchor="middle" fill="#231f20" font-weight="normal" textLength="11.40" lengthAdjust="spacingAndGlyphs" stroke="#231f20" stroke-width="0.3">100</text>
<text x="266.30" y="149.00" font-size="9.4" text-anchor="middle" fill="#231f20" font-weight="normal" textLength="63" lengthAdjust="spacingAndGlyphs" stroke="#231f20" stroke-width="0.3">GW-2580 (AUC)</text>
<text x="191.5" y="72.30" font-size="9.4" text-anchor="middle" fill="#231f20" font-weight="normal" textLength="62" lengthAdjust="spacingAndGlyphs" transform="rotate(-90 191.5 72.30)" stroke="#231f20" stroke-width="0.3">Foretinib (AUC)</text>
<text x="219.2" y="34.2" font-size="7.3" fill="#231f20" stroke="#231f20" stroke-width="0.3" textLength="25.3" lengthAdjust="spacingAndGlyphs">r<tspan font-size="4.3" dy="1.6">s</tspan><tspan dy="-1.6"> = 0.56</tspan></text>
<text x="219.2" y="43.50" font-size="7.3" text-anchor="start" fill="#231f20" font-weight="normal" textLength="33.3" lengthAdjust="spacingAndGlyphs" stroke="#231f20" stroke-width="0.3">p &lt; 0.0001</text>
<g fill="#767270" fill-opacity="0.58" stroke="#5a5654" stroke-opacity="0.35" stroke-width="0.5"><circle cx="430.46" cy="39.54" r="4.0"/><circle cx="454.09" cy="33.88" r="4.0"/><circle cx="456.87" cy="58.66" r="4.0"/><circle cx="445.60" cy="55.77" r="4.0"/><circle cx="432.44" cy="48.28" r="4.0"/><circle cx="462.63" cy="42.18" r="4.0"/><circle cx="424.22" cy="33.13" r="4.0"/><circle cx="461.08" cy="35.37" r="4.0"/><circle cx="462.00" cy="37.49" r="4.0"/><circle cx="468.84" cy="35.80" r="4.0"/><circle cx="430.33" cy="33.86" r="4.0"/><circle cx="443.13" cy="37.13" r="4.0"/><circle cx="447.43" cy="48.34" r="4.0"/><circle cx="436.31" cy="48.34" r="4.0"/><circle cx="461.63" cy="35.64" r="4.0"/><circle cx="446.87" cy="37.36" r="4.0"/><circle cx="423.56" cy="39.83" r="4.0"/><circle cx="440.71" cy="57.06" r="4.0"/><circle cx="427.33" cy="45.14" r="4.0"/><circle cx="430.14" cy="47.32" r="4.0"/><circle cx="449.73" cy="49.51" r="4.0"/><circle cx="456.03" cy="31.00" r="4.0"/><circle cx="460.88" cy="34.27" r="4.0"/><circle cx="451.59" cy="57.64" r="4.0"/><circle cx="439.05" cy="33.23" r="4.0"/><circle cx="465.33" cy="35.47" r="4.0"/><circle cx="427.35" cy="33.73" r="4.0"/><circle cx="436.90" cy="38.46" r="4.0"/><circle cx="423.68" cy="29.68" r="4.0"/><circle cx="449.61" cy="38.25" r="4.0"/><circle cx="427.83" cy="41.88" r="4.0"/><circle cx="448.36" cy="42.78" r="4.0"/><circle cx="436.04" cy="38.07" r="4.0"/><circle cx="435.04" cy="52.97" r="4.0"/><circle cx="425.21" cy="39.58" r="4.0"/><circle cx="446.98" cy="44.43" r="4.0"/><circle cx="431.01" cy="42.57" r="4.0"/><circle cx="436.45" cy="34.39" r="4.0"/><circle cx="443.67" cy="29.73" r="4.0"/><circle cx="444.79" cy="46.81" r="4.0"/><circle cx="453.28" cy="52.93" r="4.0"/><circle cx="466.68" cy="37.71" r="4.0"/><circle cx="430.42" cy="39.58" r="4.0"/><circle cx="448.75" cy="50.89" r="4.0"/><circle cx="420.89" cy="37.02" r="4.0"/><circle cx="459.09" cy="56.58" r="4.0"/><circle cx="442.79" cy="44.04" r="4.0"/><circle cx="434.57" cy="53.17" r="4.0"/><circle cx="440.24" cy="58.42" r="4.0"/><circle cx="461.85" cy="55.62" r="4.0"/><circle cx="432.93" cy="49.77" r="4.0"/><circle cx="436.13" cy="47.92" r="4.0"/><circle cx="464.79" cy="29.04" r="4.0"/><circle cx="423.25" cy="35.46" r="4.0"/><circle cx="434.00" cy="32.38" r="4.0"/><circle cx="446.38" cy="58.82" r="4.0"/><circle cx="442.69" cy="50.34" r="4.0"/><circle cx="435.24" cy="35.52" r="4.0"/><circle cx="427.95" cy="38.40" r="4.0"/><circle cx="453.12" cy="30.92" r="4.0"/><circle cx="444.97" cy="31.43" r="4.0"/><circle cx="440.55" cy="43.39" r="4.0"/><circle cx="450.57" cy="34.22" r="4.0"/><circle cx="461.23" cy="44.76" r="4.0"/><circle cx="432.71" cy="30.01" r="4.0"/><circle cx="456.48" cy="59.45" r="4.0"/><circle cx="455.88" cy="33.30" r="4.0"/><circle cx="439.65" cy="41.71" r="4.0"/><circle cx="462.38" cy="38.48" r="4.0"/><circle cx="432.21" cy="36.89" r="4.0"/><circle cx="430.95" cy="36.11" r="4.0"/><circle cx="434.52" cy="30.85" r="4.0"/><circle cx="429.81" cy="33.86" r="4.0"/><circle cx="463.52" cy="48.81" r="4.0"/><circle cx="442.97" cy="54.14" r="4.0"/><circle cx="441.70" cy="32.07" r="4.0"/><circle cx="445.90" cy="56.46" r="4.0"/><circle cx="436.94" cy="46.74" r="4.0"/><circle cx="426.66" cy="43.41" r="4.0"/><circle cx="417.96" cy="34.85" r="4.0"/><circle cx="448.80" cy="52.56" r="4.0"/><circle cx="465.27" cy="46.02" r="4.0"/><circle cx="445.05" cy="34.39" r="4.0"/><circle cx="427.98" cy="37.47" r="4.0"/><circle cx="452.15" cy="48.38" r="4.0"/><circle cx="443.11" cy="42.20" r="4.0"/><circle cx="429.61" cy="44.87" r="4.0"/><circle cx="458.30" cy="51.43" r="4.0"/><circle cx="455.01" cy="48.43" r="4.0"/><circle cx="466.88" cy="37.63" r="4.0"/><circle cx="421.64" cy="31.65" r="4.0"/><circle cx="467.87" cy="35.00" r="4.0"/><circle cx="462.28" cy="39.67" r="4.0"/><circle cx="456.14" cy="40.16" r="4.0"/><circle cx="448.90" cy="54.28" r="4.0"/><circle cx="423.49" cy="38.13" r="4.0"/><circle cx="449.23" cy="61.20" r="4.0"/><circle cx="451.74" cy="42.13" r="4.0"/><circle cx="444.50" cy="36.44" r="4.0"/><circle cx="464.78" cy="50.01" r="4.0"/><circle cx="461.36" cy="45.94" r="4.0"/><circle cx="447.86" cy="48.89" r="4.0"/><circle cx="453.44" cy="31.70" r="4.0"/><circle cx="454.07" cy="50.21" r="4.0"/><circle cx="439.10" cy="35.10" r="4.0"/><circle cx="459.67" cy="29.17" r="4.0"/><circle cx="440.95" cy="49.00" r="4.0"/><circle cx="447.43" cy="37.32" r="4.0"/><circle cx="432.73" cy="29.79" r="4.0"/><circle cx="427.61" cy="30.98" r="4.0"/><circle cx="447.50" cy="32.71" r="4.0"/><circle cx="452.72" cy="38.72" r="4.0"/><circle cx="455.01" cy="35.68" r="4.0"/><circle cx="444.91" cy="45.20" r="4.0"/><circle cx="459.53" cy="57.14" r="4.0"/><circle cx="455.32" cy="48.45" r="4.0"/><circle cx="439.50" cy="54.71" r="4.0"/><circle cx="431.72" cy="43.20" r="4.0"/><circle cx="446.86" cy="31.91" r="4.0"/><circle cx="431.64" cy="38.49" r="4.0"/><circle cx="421.45" cy="40.68" r="4.0"/><circle cx="424.99" cy="33.60" r="4.0"/><circle cx="461.00" cy="55.58" r="4.0"/><circle cx="440.61" cy="59.55" r="4.0"/><circle cx="455.22" cy="43.32" r="4.0"/><circle cx="439.42" cy="38.69" r="4.0"/><circle cx="421.68" cy="35.66" r="4.0"/><circle cx="461.56" cy="47.73" r="4.0"/><circle cx="439.49" cy="58.35" r="4.0"/><circle cx="436.20" cy="37.25" r="4.0"/><circle cx="457.32" cy="43.73" r="4.0"/><circle cx="451.09" cy="30.65" r="4.0"/><circle cx="460.46" cy="42.50" r="4.0"/><circle cx="458.86" cy="46.20" r="4.0"/><circle cx="446.73" cy="34.98" r="4.0"/><circle cx="450.50" cy="50.17" r="4.0"/><circle cx="417.20" cy="35.94" r="4.0"/><circle cx="434.97" cy="48.36" r="4.0"/><circle cx="432.05" cy="44.01" r="4.0"/><circle cx="438.35" cy="34.41" r="4.0"/><circle cx="449.09" cy="43.91" r="4.0"/><circle cx="459.59" cy="47.97" r="4.0"/><circle cx="445.88" cy="37.29" r="4.0"/><circle cx="456.23" cy="37.52" r="4.0"/><circle cx="465.59" cy="43.92" r="4.0"/><circle cx="446.93" cy="56.65" r="4.0"/><circle cx="429.47" cy="48.18" r="4.0"/><circle cx="443.79" cy="32.16" r="4.0"/><circle cx="457.21" cy="47.33" r="4.0"/><circle cx="458.93" cy="48.29" r="4.0"/><circle cx="447.62" cy="61.18" r="4.0"/><circle cx="438.46" cy="35.49" r="4.0"/><circle cx="456.93" cy="43.71" r="4.0"/><circle cx="454.93" cy="47.77" r="4.0"/><circle cx="456.32" cy="42.06" r="4.0"/><circle cx="438.42" cy="33.01" r="4.0"/><circle cx="423.41" cy="30.10" r="4.0"/><circle cx="420.85" cy="29.76" r="4.0"/><circle cx="448.69" cy="47.72" r="4.0"/><circle cx="468.09" cy="45.50" r="4.0"/><circle cx="444.33" cy="61.08" r="4.0"/><circle cx="460.41" cy="41.12" r="4.0"/><circle cx="439.42" cy="30.93" r="4.0"/><circle cx="464.46" cy="47.11" r="4.0"/><circle cx="418.05" cy="34.59" r="4.0"/><circle cx="427.30" cy="37.96" r="4.0"/><circle cx="443.83" cy="29.94" r="4.0"/><circle cx="424.27" cy="35.80" r="4.0"/><circle cx="447.50" cy="52.99" r="4.0"/><circle cx="454.72" cy="30.02" r="4.0"/><circle cx="453.10" cy="46.12" r="4.0"/><circle cx="449.63" cy="54.58" r="4.0"/><circle cx="442.06" cy="59.13" r="4.0"/><circle cx="445.36" cy="56.96" r="4.0"/><circle cx="447.37" cy="61.20" r="4.0"/><circle cx="456.06" cy="32.54" r="4.0"/><circle cx="453.72" cy="28.84" r="4.0"/><circle cx="424.00" cy="41.48" r="4.0"/><circle cx="451.44" cy="57.10" r="4.0"/><circle cx="445.16" cy="36.02" r="4.0"/><circle cx="455.59" cy="43.44" r="4.0"/><circle cx="420.37" cy="38.28" r="4.0"/><circle cx="444.55" cy="57.30" r="4.0"/><circle cx="450.43" cy="54.68" r="4.0"/><circle cx="433.23" cy="47.60" r="4.0"/><circle cx="440.66" cy="55.04" r="4.0"/><circle cx="453.37" cy="35.04" r="4.0"/><circle cx="430.75" cy="38.35" r="4.0"/><circle cx="441.86" cy="55.65" r="4.0"/><circle cx="431.39" cy="44.61" r="4.0"/><circle cx="460.92" cy="42.41" r="4.0"/><circle cx="448.32" cy="48.59" r="4.0"/><circle cx="429.47" cy="47.96" r="4.0"/><circle cx="454.54" cy="53.80" r="4.0"/><circle cx="423.76" cy="32.87" r="4.0"/><circle cx="440.64" cy="60.71" r="4.0"/><circle cx="436.35" cy="41.82" r="4.0"/><circle cx="452.99" cy="32.17" r="4.0"/><circle cx="425.84" cy="43.53" r="4.0"/><circle cx="464.95" cy="47.04" r="4.0"/><circle cx="455.79" cy="47.07" r="4.0"/><circle cx="455.89" cy="30.14" r="4.0"/><circle cx="434.95" cy="37.75" r="4.0"/><circle cx="435.24" cy="32.56" r="4.0"/><circle cx="458.54" cy="33.59" r="4.0"/><circle cx="464.64" cy="42.63" r="4.0"/><circle cx="447.97" cy="60.58" r="4.0"/><circle cx="448.48" cy="39.47" r="4.0"/><circle cx="431.92" cy="35.17" r="4.0"/><circle cx="439.27" cy="56.34" r="4.0"/><circle cx="426.81" cy="43.23" r="4.0"/><circle cx="433.06" cy="29.57" r="4.0"/><circle cx="442.32" cy="39.61" r="4.0"/><circle cx="439.77" cy="60.69" r="4.0"/><circle cx="450.10" cy="55.91" r="4.0"/><circle cx="422.85" cy="41.89" r="4.0"/><circle cx="460.39" cy="37.56" r="4.0"/><circle cx="457.38" cy="48.34" r="4.0"/><circle cx="424.60" cy="37.27" r="4.0"/><circle cx="458.86" cy="39.96" r="4.0"/><circle cx="429.88" cy="33.28" r="4.0"/><circle cx="444.70" cy="56.04" r="4.0"/><circle cx="421.42" cy="29.07" r="4.0"/><circle cx="435.87" cy="32.37" r="4.0"/><circle cx="462.25" cy="34.15" r="4.0"/><circle cx="451.14" cy="62.75" r="4.0"/><circle cx="457.09" cy="56.58" r="4.0"/><circle cx="468.73" cy="29.72" r="4.0"/><circle cx="419.73" cy="37.95" r="4.0"/><circle cx="464.70" cy="47.90" r="4.0"/><circle cx="432.44" cy="43.85" r="4.0"/><circle cx="452.17" cy="33.36" r="4.0"/><circle cx="422.87" cy="32.35" r="4.0"/><circle cx="434.61" cy="57.33" r="4.0"/><circle cx="421.12" cy="40.56" r="4.0"/><circle cx="438.23" cy="56.61" r="4.0"/><circle cx="444.68" cy="58.88" r="4.0"/><circle cx="453.94" cy="29.93" r="4.0"/><circle cx="442.03" cy="48.62" r="4.0"/><circle cx="438.22" cy="50.51" r="4.0"/><circle cx="439.05" cy="57.00" r="4.0"/><circle cx="432.53" cy="39.35" r="4.0"/><circle cx="442.73" cy="60.80" r="4.0"/><circle cx="424.14" cy="34.17" r="4.0"/><circle cx="435.69" cy="34.55" r="4.0"/><circle cx="450.37" cy="41.60" r="4.0"/><circle cx="435.84" cy="43.17" r="4.0"/><circle cx="439.13" cy="45.35" r="4.0"/><circle cx="427.94" cy="32.02" r="4.0"/><circle cx="467.61" cy="35.14" r="4.0"/><circle cx="456.01" cy="58.86" r="4.0"/><circle cx="463.20" cy="49.50" r="4.0"/><circle cx="443.26" cy="45.23" r="4.0"/><circle cx="427.50" cy="43.63" r="4.0"/><circle cx="464.00" cy="47.68" r="4.0"/><circle cx="440.46" cy="50.51" r="4.0"/><circle cx="462.64" cy="29.90" r="4.0"/><circle cx="436.89" cy="53.25" r="4.0"/><circle cx="434.81" cy="33.39" r="4.0"/><circle cx="452.27" cy="31.14" r="4.0"/><circle cx="429.10" cy="26.78" r="4.0"/><circle cx="432.91" cy="26.78" r="4.0"/><circle cx="436.72" cy="26.78" r="4.0"/><circle cx="440.53" cy="26.78" r="4.0"/><circle cx="444.34" cy="26.78" r="4.0"/><circle cx="448.14" cy="26.78" r="4.0"/><circle cx="451.95" cy="26.78" r="4.0"/><circle cx="455.76" cy="26.78" r="4.0"/><circle cx="459.57" cy="26.78" r="4.0"/><circle cx="463.38" cy="26.78" r="4.0"/><circle cx="467.18" cy="26.78" r="4.0"/><circle cx="470.99" cy="26.78" r="4.0"/><circle cx="398.74" cy="55.87" r="4.0"/><circle cx="414.06" cy="92.72" r="4.0"/><circle cx="423.30" cy="118.55" r="4.0"/><circle cx="431.01" cy="118.55" r="4.0"/><circle cx="453.38" cy="81.23" r="4.0"/><circle cx="431.01" cy="71.66" r="4.0"/><circle cx="425.58" cy="66.97" r="4.0"/><circle cx="422.73" cy="63.14" r="4.0"/><circle cx="424.63" cy="58.36" r="4.0"/><circle cx="415.11" cy="53.57" r="4.0"/><circle cx="412.16" cy="42.09" r="4.0"/><circle cx="465.85" cy="59.32" r="4.0"/><circle cx="471.66" cy="39.22" r="4.0"/><circle cx="420.82" cy="49.75" r="4.0"/><circle cx="422.44" cy="27.26" r="4.0"/><circle cx="436.72" cy="27.26" r="4.0"/><circle cx="451.00" cy="27.26" r="4.0"/><circle cx="465.28" cy="27.26" r="4.0"/><circle cx="470.99" cy="27.26" r="4.0"/></g>
<line x1="398.64" y1="51.76" x2="470.04" y2="34.15" stroke="#000" stroke-width="2.4"/>
<path d="M379.6 24.299999999999997 V122.0 H478.3" fill="none" stroke="#231f20" stroke-width="1.25"/>
<path d="M376.6 122.00H379.6M379.60 122.0V125.0M376.6 102.86H379.6M398.64 122.0V125.0M376.6 83.72H379.6M417.68 122.0V125.0M376.6 64.58H379.6M436.72 122.0V125.0M376.6 45.44H379.6M455.76 122.0V125.0M376.6 26.30H379.6M474.80 122.0V125.0" stroke="#231f20" stroke-width="0.9"/>
<text x="372.90" y="124.80" font-size="7.9" text-anchor="end" fill="#231f20" font-weight="normal" textLength="3.80" lengthAdjust="spacingAndGlyphs" stroke="#231f20" stroke-width="0.3">0</text>
<text x="379.60" y="135.20" font-size="7.9" text-anchor="middle" fill="#231f20" font-weight="normal" textLength="3.80" lengthAdjust="spacingAndGlyphs" stroke="#231f20" stroke-width="0.3">0</text>
<text x="372.90" y="105.66" font-size="7.9" text-anchor="end" fill="#231f20" font-weight="normal" textLength="7.60" lengthAdjust="spacingAndGlyphs" stroke="#231f20" stroke-width="0.3">20</text>
<text x="398.64" y="135.20" font-size="7.9" text-anchor="middle" fill="#231f20" font-weight="normal" textLength="7.60" lengthAdjust="spacingAndGlyphs" stroke="#231f20" stroke-width="0.3">20</text>
<text x="372.90" y="86.52" font-size="7.9" text-anchor="end" fill="#231f20" font-weight="normal" textLength="7.60" lengthAdjust="spacingAndGlyphs" stroke="#231f20" stroke-width="0.3">40</text>
<text x="417.68" y="135.20" font-size="7.9" text-anchor="middle" fill="#231f20" font-weight="normal" textLength="7.60" lengthAdjust="spacingAndGlyphs" stroke="#231f20" stroke-width="0.3">40</text>
<text x="372.90" y="67.38" font-size="7.9" text-anchor="end" fill="#231f20" font-weight="normal" textLength="7.60" lengthAdjust="spacingAndGlyphs" stroke="#231f20" stroke-width="0.3">60</text>
<text x="436.72" y="135.20" font-size="7.9" text-anchor="middle" fill="#231f20" font-weight="normal" textLength="7.60" lengthAdjust="spacingAndGlyphs" stroke="#231f20" stroke-width="0.3">60</text>
<text x="372.90" y="48.24" font-size="7.9" text-anchor="end" fill="#231f20" font-weight="normal" textLength="7.60" lengthAdjust="spacingAndGlyphs" stroke="#231f20" stroke-width="0.3">80</text>
<text x="455.76" y="135.20" font-size="7.9" text-anchor="middle" fill="#231f20" font-weight="normal" textLength="7.60" lengthAdjust="spacingAndGlyphs" stroke="#231f20" stroke-width="0.3">80</text>
<text x="372.90" y="29.10" font-size="7.9" text-anchor="end" fill="#231f20" font-weight="normal" textLength="11.40" lengthAdjust="spacingAndGlyphs" stroke="#231f20" stroke-width="0.3">100</text>
<text x="474.80" y="135.20" font-size="7.9" text-anchor="middle" fill="#231f20" font-weight="normal" textLength="11.40" lengthAdjust="spacingAndGlyphs" stroke="#231f20" stroke-width="0.3">100</text>
<text x="428.90" y="149.00" font-size="9.4" text-anchor="middle" fill="#231f20" font-weight="normal" textLength="63" lengthAdjust="spacingAndGlyphs" stroke="#231f20" stroke-width="0.3">GW-2580 (AUC)</text>
<text x="355" y="72.30" font-size="9.4" text-anchor="middle" fill="#231f20" font-weight="normal" textLength="61" lengthAdjust="spacingAndGlyphs" transform="rotate(-90 355 72.30)" stroke="#231f20" stroke-width="0.3">SGX-523 (AUC)</text>
<text x="381.6" y="108.6" font-size="7.3" fill="#231f20" stroke="#231f20" stroke-width="0.3" textLength="25.3" lengthAdjust="spacingAndGlyphs">r<tspan font-size="4.3" dy="1.6">s</tspan><tspan dy="-1.6"> = 0.18</tspan></text>
<text x="381.6" y="117.90" font-size="7.3" text-anchor="start" fill="#231f20" font-weight="normal" textLength="33.3" lengthAdjust="spacingAndGlyphs" stroke="#231f20" stroke-width="0.3">p = 0.0021</text>
<path d="M54.4 198.7 V288.4 H184.5" fill="none" stroke="#231f20" stroke-width="1.25"/>
<path d="M51.1 288.40H54.4M51.1 273.70H54.4M51.1 259.00H54.4M51.1 244.30H54.4M51.1 229.60H54.4M51.1 214.90H54.4M51.1 200.20H54.4M54.50 288.4V291.4M86.20 288.4V291.4M117.90 288.4V291.4M149.60 288.4V291.4M181.30 288.4V291.4" stroke="#231f20" stroke-width="0.9"/>
<path d="M64.04 288.4V290.0M69.62 288.4V290.0M73.59 288.4V290.0M76.66 288.4V290.0M79.17 288.4V290.0M81.29 288.4V290.0M83.13 288.4V290.0M84.75 288.4V290.0M95.74 288.4V290.0M101.32 288.4V290.0M105.29 288.4V290.0M108.36 288.4V290.0M110.87 288.4V290.0M112.99 288.4V290.0M114.83 288.4V290.0M116.45 288.4V290.0M127.44 288.4V290.0M133.02 288.4V290.0M136.99 288.4V290.0M140.06 288.4V290.0M142.57 288.4V290.0M144.69 288.4V290.0M146.53 288.4V290.0M148.15 288.4V290.0M159.14 288.4V290.0M164.72 288.4V290.0M168.69 288.4V290.0M171.76 288.4V290.0M174.27 288.4V290.0M176.39 288.4V290.0M178.23 288.4V290.0M179.85 288.4V290.0" stroke="#231f20" stroke-width="0.7"/>
<text x="47.60" y="291.10" font-size="7.9" text-anchor="end" fill="#231f20" font-weight="normal" textLength="3.80" lengthAdjust="spacingAndGlyphs" stroke="#231f20" stroke-width="0.3">0</text>
<text x="47.60" y="276.40" font-size="7.9" text-anchor="end" fill="#231f20" font-weight="normal" textLength="7.60" lengthAdjust="spacingAndGlyphs" stroke="#231f20" stroke-width="0.3">20</text>
<text x="47.60" y="261.70" font-size="7.9" text-anchor="end" fill="#231f20" font-weight="normal" textLength="7.60" lengthAdjust="spacingAndGlyphs" stroke="#231f20" stroke-width="0.3">40</text>
<text x="47.60" y="247.00" font-size="7.9" text-anchor="end" fill="#231f20" font-weight="normal" textLength="7.60" lengthAdjust="spacingAndGlyphs" stroke="#231f20" stroke-width="0.3">60</text>
<text x="47.60" y="232.30" font-size="7.9" text-anchor="end" fill="#231f20" font-weight="normal" textLength="7.60" lengthAdjust="spacingAndGlyphs" stroke="#231f20" stroke-width="0.3">80</text>
<text x="47.60" y="217.60" font-size="7.9" text-anchor="end" fill="#231f20" font-weight="normal" textLength="11.40" lengthAdjust="spacingAndGlyphs" stroke="#231f20" stroke-width="0.3">100</text>
<text x="47.60" y="202.90" font-size="7.9" text-anchor="end" fill="#231f20" font-weight="normal" textLength="11.40" lengthAdjust="spacingAndGlyphs" stroke="#231f20" stroke-width="0.3">120</text>
<text x="54.80" y="301.60" font-size="7.9" text-anchor="middle" fill="#231f20" font-weight="normal" textLength="17.10" lengthAdjust="spacingAndGlyphs" stroke="#231f20" stroke-width="0.3">0.001</text>
<text x="86.50" y="301.60" font-size="7.9" text-anchor="middle" fill="#231f20" font-weight="normal" textLength="13.30" lengthAdjust="spacingAndGlyphs" stroke="#231f20" stroke-width="0.3">0.01</text>
<text x="118.20" y="301.60" font-size="7.9" text-anchor="middle" fill="#231f20" font-weight="normal" textLength="9.50" lengthAdjust="spacingAndGlyphs" stroke="#231f20" stroke-width="0.3">0.1</text>
<text x="149.90" y="301.60" font-size="7.9" text-anchor="middle" fill="#231f20" font-weight="normal" textLength="3.80" lengthAdjust="spacingAndGlyphs" stroke="#231f20" stroke-width="0.3">1</text>
<text x="181.60" y="301.60" font-size="7.9" text-anchor="middle" fill="#231f20" font-weight="normal" textLength="7.60" lengthAdjust="spacingAndGlyphs" stroke="#231f20" stroke-width="0.3">10</text>
<text x="119.40" y="315.20" font-size="9.2" text-anchor="middle" fill="#231f20" font-weight="normal" textLength="59" lengthAdjust="spacingAndGlyphs" stroke="#231f20" stroke-width="0.3">GW-2580 (μM)</text>
<text x="28.50" y="239.10" font-size="9.6" text-anchor="middle" fill="#231f20" font-weight="normal" textLength="60" lengthAdjust="spacingAndGlyphs" transform="rotate(-90 28.50 239.10)" stroke="#231f20" stroke-width="0.3">% cell viability</text>
<text x="119.9" y="191.30" font-size="9" text-anchor="middle" fill="#231f20" font-weight="normal" textLength="38" lengthAdjust="spacingAndGlyphs" stroke="#231f20" stroke-width="0.3">18-00136</text>
<path d="M73.93 214.94 L75.71 214.94 L77.50 214.95 L79.29 214.96 L81.08 214.96 L82.87 214.97 L84.66 214.98 L86.45 214.99 L88.24 215.00 L90.03 215.01 L91.82 215.02 L93.61 215.04 L95.40 215.05 L97.19 215.07 L98.98 215.09 L100.77 215.12 L102.56 215.14 L104.35 215.17 L106.14 215.20 L107.93 215.24 L109.72 215.28 L111.51 215.32 L113.30 215.37 L115.09 215.42 L116.88 215.48 L118.66 215.54 L120.45 215.61 L122.24 215.69 L124.03 215.77 L125.82 215.86 L127.61 215.96 L129.40 216.06 L131.19 216.17 L132.98 216.29 L134.77 216.42 L136.56 216.55 L138.35 216.69 L140.14 216.83 L141.93 216.98 L143.72 217.13 L145.51 217.29 L147.30 217.45 L149.09 217.61 L150.88 217.77 L152.67 217.93 L154.46 218.09 L156.25 218.25 L158.04 218.40 L159.83 218.54 L161.61 218.69 L163.40 218.82 L165.19 218.95 L166.98 219.07 L168.77 219.19 L170.56 219.30 L172.35 219.40 L174.14 219.49 L175.93 219.58 L177.72 219.66 L179.51 219.73 L181.30 219.80" fill="none" stroke="#8d8c8c" stroke-width="1.2"/>
<g fill="#8d8c8c"><circle cx="73.93" cy="214.90" r="2.1"/><circle cx="105.69" cy="214.53" r="2.1"/><circle cx="120.75" cy="214.90" r="2.1"/><circle cx="135.91" cy="215.78" r="2.1"/><circle cx="151.04" cy="217.55" r="2.1"/><circle cx="166.16" cy="218.28" r="2.1"/><circle cx="181.30" cy="219.31" r="2.1"/></g>
<path d="M73.93 214.90 L75.71 212.93 L77.50 211.66 L79.29 210.83 L81.08 210.30 L82.87 209.95 L84.66 209.73 L86.45 209.58 L88.24 209.49 L90.03 209.43 L91.82 209.39 L93.61 209.36 L95.40 209.34 L97.19 209.33 L98.98 209.33 L100.77 209.32 L102.56 209.32 L104.35 209.32 L106.14 209.32 L107.93 209.32 L109.72 209.31 L111.51 209.31 L113.30 209.31 L115.09 209.31 L116.88 209.31 L118.66 209.31 L120.45 209.31 L122.24 209.31 L124.03 209.31 L125.82 209.31 L127.61 209.31 L129.40 209.31 L131.19 209.31 L132.98 209.31 L134.77 209.31 L136.56 209.31 L138.35 209.31 L140.14 209.31 L141.93 209.31 L143.72 209.31 L145.51 209.31 L147.30 209.31 L149.09 209.31 L150.88 209.31 L152.67 209.31 L154.46 209.31 L156.25 209.31 L158.04 209.31 L159.83 209.31 L161.61 209.31 L163.40 209.31 L165.19 209.31 L166.98 209.31 L168.77 209.31 L170.56 209.31 L172.35 209.31 L174.14 209.31 L175.93 209.31 L177.72 209.31 L179.51 209.31 L181.30 209.31" fill="none" stroke="#e39a45" stroke-width="1.2"/>
<path d="M73.93 220.04V209.75M71.43 220.04h5M71.43 209.75h5M105.69 212.69V207.55M103.19 212.69h5M103.19 207.55h5M120.75 214.16V200.93M118.25 214.16h5M118.25 200.93h5M135.91 213.43V209.02M133.41 213.43h5M133.41 209.02h5M151.04 214.16V200.93M148.54 214.16h5M148.54 200.93h5M181.30 214.16V209.02M178.80 214.16h5M178.80 209.02h5" fill="none" stroke="#e39a45" stroke-width="0.9"/>
<g fill="#e39a45"><circle cx="73.93" cy="214.90" r="2.1"/><circle cx="105.69" cy="209.98" r="2.1"/><circle cx="120.75" cy="207.55" r="2.1"/><circle cx="135.91" cy="211.22" r="2.1"/><circle cx="151.04" cy="206.96" r="2.1"/><circle cx="166.16" cy="207.55" r="2.1"/><circle cx="181.30" cy="211.22" r="2.1"/></g>
<path d="M73.93 209.79 L75.71 209.80 L77.50 209.81 L79.29 209.82 L81.08 209.83 L82.87 209.85 L84.66 209.87 L86.45 209.89 L88.24 209.92 L90.03 209.96 L91.82 210.00 L93.61 210.05 L95.40 210.12 L97.19 210.19 L98.98 210.28 L100.77 210.40 L102.56 210.53 L104.35 210.69 L106.14 210.88 L107.93 211.11 L109.72 211.39 L111.51 211.72 L113.30 212.11 L115.09 212.56 L116.88 213.09 L118.66 213.71 L120.45 214.42 L122.24 215.24 L124.03 216.15 L125.82 217.16 L127.61 218.28 L129.40 219.48 L131.19 220.76 L132.98 222.10 L134.77 223.47 L136.56 224.85 L138.35 226.21 L140.14 227.52 L141.93 228.78 L143.72 229.95 L145.51 231.03 L147.30 232.01 L149.09 232.88 L150.88 233.66 L152.67 234.33 L154.46 234.92 L156.25 235.42 L158.04 235.85 L159.83 236.22 L161.61 236.52 L163.40 236.78 L165.19 237.00 L166.98 237.18 L168.77 237.33 L170.56 237.46 L172.35 237.56 L174.14 237.65 L175.93 237.72 L177.72 237.78 L179.51 237.82 L181.30 237.86" fill="none" stroke="#5b3f8e" stroke-width="1.2"/>
<path d="M73.93 217.10V211.96M71.43 217.10h5M71.43 211.96h5M105.69 208.28V197.26M103.19 208.28h5M103.19 197.26h5M166.16 236.21V229.60M163.66 236.21h5M163.66 229.60h5" fill="none" stroke="#5b3f8e" stroke-width="0.9"/>
<g fill="#5b3f8e"><circle cx="73.93" cy="214.53" r="2.1"/><circle cx="105.69" cy="203.14" r="2.1"/><circle cx="120.75" cy="218.28" r="2.1"/><circle cx="135.91" cy="224.53" r="2.1"/><circle cx="151.04" cy="233.27" r="2.1"/><circle cx="166.16" cy="233.27" r="2.1"/><circle cx="181.30" cy="240.11" r="2.1"/></g>
<path d="M185.4 208.9H188.9V237.3H185.4" fill="none" stroke="#3a3a3a" stroke-width="1.15"/>
<path d="M192.1 219H195.6V237.3H192.1" fill="none" stroke="#3a3a3a" stroke-width="1.15"/>
<line x1="190.3" y1="213.4" x2="195" y2="210" stroke="#231f20" stroke-width="0.8"/>
<circle cx="197.60" cy="208.1" r="1.05" fill="#231f20"/><circle cx="200.95" cy="208.1" r="1.05" fill="#231f20"/><circle cx="204.30" cy="208.1" r="1.05" fill="#231f20"/><circle cx="207.65" cy="208.1" r="1.05" fill="#231f20"/>
<circle cx="199.60" cy="228.1" r="1.05" fill="#231f20"/><circle cx="202.95" cy="228.1" r="1.05" fill="#231f20"/>
<path d="M270.4 198.7 V288.4 H400.5" fill="none" stroke="#231f20" stroke-width="1.25"/>
<path d="M267.09999999999997 288.40H270.4M267.09999999999997 273.70H270.4M267.09999999999997 259.00H270.4M267.09999999999997 244.30H270.4M267.09999999999997 229.60H270.4M267.09999999999997 214.90H270.4M267.09999999999997 200.20H270.4M270.50 288.4V291.4M302.20 288.4V291.4M333.90 288.4V291.4M365.60 288.4V291.4M397.30 288.4V291.4" stroke="#231f20" stroke-width="0.9"/>
<path d="M280.04 288.4V290.0M285.62 288.4V290.0M289.59 288.4V290.0M292.66 288.4V290.0M295.17 288.4V290.0M297.29 288.4V290.0M299.13 288.4V290.0M300.75 288.4V290.0M311.74 288.4V290.0M317.32 288.4V290.0M321.29 288.4V290.0M324.36 288.4V290.0M326.87 288.4V290.0M328.99 288.4V290.0M330.83 288.4V290.0M332.45 288.4V290.0M343.44 288.4V290.0M349.02 288.4V290.0M352.99 288.4V290.0M356.06 288.4V290.0M358.57 288.4V290.0M360.69 288.4V290.0M362.53 288.4V290.0M364.15 288.4V290.0M375.14 288.4V290.0M380.72 288.4V290.0M384.69 288.4V290.0M387.76 288.4V290.0M390.27 288.4V290.0M392.39 288.4V290.0M394.23 288.4V290.0M395.85 288.4V290.0" stroke="#231f20" stroke-width="0.7"/>
<text x="263.60" y="291.10" font-size="7.9" text-anchor="end" fill="#231f20" font-weight="normal" textLength="3.80" lengthAdjust="spacingAndGlyphs" stroke="#231f20" stroke-width="0.3">0</text>
<text x="263.60" y="276.40" font-size="7.9" text-anchor="end" fill="#231f20" font-weight="normal" textLength="7.60" lengthAdjust="spacingAndGlyphs" stroke="#231f20" stroke-width="0.3">20</text>
<text x="263.60" y="261.70" font-size="7.9" text-anchor="end" fill="#231f20" font-weight="normal" textLength="7.60" lengthAdjust="spacingAndGlyphs" stroke="#231f20" stroke-width="0.3">40</text>
<text x="263.60" y="247.00" font-size="7.9" text-anchor="end" fill="#231f20" font-weight="normal" textLength="7.60" lengthAdjust="spacingAndGlyphs" stroke="#231f20" stroke-width="0.3">60</text>
<text x="263.60" y="232.30" font-size="7.9" text-anchor="end" fill="#231f20" font-weight="normal" textLength="7.60" lengthAdjust="spacingAndGlyphs" stroke="#231f20" stroke-width="0.3">80</text>
<text x="263.60" y="217.60" font-size="7.9" text-anchor="end" fill="#231f20" font-weight="normal" textLength="11.40" lengthAdjust="spacingAndGlyphs" stroke="#231f20" stroke-width="0.3">100</text>
<text x="263.60" y="202.90" font-size="7.9" text-anchor="end" fill="#231f20" font-weight="normal" textLength="11.40" lengthAdjust="spacingAndGlyphs" stroke="#231f20" stroke-width="0.3">120</text>
<text x="270.80" y="301.60" font-size="7.9" text-anchor="middle" fill="#231f20" font-weight="normal" textLength="17.10" lengthAdjust="spacingAndGlyphs" stroke="#231f20" stroke-width="0.3">0.001</text>
<text x="302.50" y="301.60" font-size="7.9" text-anchor="middle" fill="#231f20" font-weight="normal" textLength="13.30" lengthAdjust="spacingAndGlyphs" stroke="#231f20" stroke-width="0.3">0.01</text>
<text x="334.20" y="301.60" font-size="7.9" text-anchor="middle" fill="#231f20" font-weight="normal" textLength="9.50" lengthAdjust="spacingAndGlyphs" stroke="#231f20" stroke-width="0.3">0.1</text>
<text x="365.90" y="301.60" font-size="7.9" text-anchor="middle" fill="#231f20" font-weight="normal" textLength="3.80" lengthAdjust="spacingAndGlyphs" stroke="#231f20" stroke-width="0.3">1</text>
<text x="397.60" y="301.60" font-size="7.9" text-anchor="middle" fill="#231f20" font-weight="normal" textLength="7.60" lengthAdjust="spacingAndGlyphs" stroke="#231f20" stroke-width="0.3">10</text>
<text x="335.40" y="315.20" font-size="9.2" text-anchor="middle" fill="#231f20" font-weight="normal" textLength="59" lengthAdjust="spacingAndGlyphs" stroke="#231f20" stroke-width="0.3">GW-2580 (μM)</text>
<text x="244.50" y="239.10" font-size="9.6" text-anchor="middle" fill="#231f20" font-weight="normal" textLength="60" lengthAdjust="spacingAndGlyphs" transform="rotate(-90 244.50 239.10)" stroke="#231f20" stroke-width="0.3">% cell viability</text>
<text x="332.8" y="191.30" font-size="9" text-anchor="middle" fill="#231f20" font-weight="normal" textLength="38" lengthAdjust="spacingAndGlyphs" stroke="#231f20" stroke-width="0.3">18-00105</text>
<path d="M289.93 214.90 C295.22 215.08 313.89 215.79 321.69 216.00 C329.50 216.21 331.71 216.03 336.75 216.15 C341.79 216.27 346.86 216.39 351.91 216.74 C356.96 217.08 362.00 217.41 367.04 218.21 C372.08 219.00 377.12 219.69 382.16 221.51 C387.21 223.34 394.78 227.88 397.30 229.16" fill="none" stroke="#8d8c8c" stroke-width="1.2"/>
<g fill="#8d8c8c"><circle cx="289.93" cy="214.90" r="2.1"/><circle cx="321.69" cy="216.37" r="2.1"/><circle cx="336.75" cy="216.37" r="2.1"/><circle cx="351.91" cy="216.66" r="2.1"/><circle cx="367.04" cy="218.13" r="2.1"/><circle cx="382.16" cy="221.88" r="2.1"/><circle cx="397.30" cy="229.16" r="2.1"/></g>
<path d="M289.93 214.90 C295.22 217.35 313.89 226.23 321.69 229.60 C329.50 232.97 331.71 233.03 336.75 235.11 C341.79 237.19 346.86 239.83 351.91 242.09 C356.96 244.36 362.00 246.81 367.04 248.71 C372.08 250.61 377.12 252.14 382.16 253.49 C387.21 254.83 394.78 256.24 397.30 256.79" fill="none" stroke="#e39a45" stroke-width="1.2"/>
<path d="M289.93 221.51V208.28M287.43 221.51h5M287.43 208.28h5M351.91 244.30V237.68M349.41 244.30h5M349.41 237.68h5M382.16 260.10V229.60M379.66 260.10h5M379.66 229.60h5" fill="none" stroke="#e39a45" stroke-width="0.9"/>
<g fill="#e39a45"><circle cx="289.93" cy="214.90" r="2.1"/><circle cx="321.69" cy="228.42" r="2.1"/><circle cx="336.75" cy="233.27" r="2.1"/><circle cx="351.91" cy="240.99" r="2.1"/><circle cx="367.04" cy="252.75" r="2.1"/><circle cx="382.16" cy="245.26" r="2.1"/><circle cx="397.30" cy="259.00" r="2.1"/></g>
<path d="M289.93 214.90 C295.22 215.84 313.89 218.88 321.69 220.56 C329.50 222.24 331.71 222.48 336.75 224.97 C341.79 227.46 346.86 232.14 351.91 235.48 C356.96 238.82 362.00 242.09 367.04 245.03 C372.08 247.97 377.12 251.34 382.16 253.12 C387.21 254.90 394.78 255.26 397.30 255.69" fill="none" stroke="#5b3f8e" stroke-width="1.2"/>
<path d="M367.04 249.44V239.15M364.54 249.44h5M364.54 239.15h5" fill="none" stroke="#5b3f8e" stroke-width="0.9"/>
<g fill="#5b3f8e"><circle cx="289.93" cy="214.90" r="2.1"/><circle cx="321.69" cy="220.63" r="2.1"/><circle cx="336.75" cy="225.19" r="2.1"/><circle cx="351.91" cy="235.92" r="2.1"/><circle cx="367.04" cy="243.93" r="2.1"/><circle cx="382.16" cy="254.59" r="2.1"/><circle cx="397.30" cy="254.74" r="2.1"/></g>
<path d="M402.2 229.2H406V255H402.2" fill="none" stroke="#3a3a3a" stroke-width="1.15"/>
<path d="M408.9 254.4H411.4V258.6H408.9" fill="none" stroke="#3a3a3a" stroke-width="1.15"/>
<circle cx="409.00" cy="243" r="1.05" fill="#231f20"/>
<text x="414.4" y="259.1" font-size="7.5" text-anchor="start" fill="#231f20" font-weight="normal" stroke="#231f20" stroke-width="0.12">ns</text>
<path d="M54.4 358.7 V448.4 H184.5" fill="none" stroke="#231f20" stroke-width="1.25"/>
<path d="M51.1 448.40H54.4M51.1 433.70H54.4M51.1 419.00H54.4M51.1 404.30H54.4M51.1 389.60H54.4M51.1 374.90H54.4M51.1 360.20H54.4M54.50 448.4V451.4M86.20 448.4V451.4M117.90 448.4V451.4M149.60 448.4V451.4M181.30 448.4V451.4" stroke="#231f20" stroke-width="0.9"/>
<path d="M64.04 448.4V450.0M69.62 448.4V450.0M73.59 448.4V450.0M76.66 448.4V450.0M79.17 448.4V450.0M81.29 448.4V450.0M83.13 448.4V450.0M84.75 448.4V450.0M95.74 448.4V450.0M101.32 448.4V450.0M105.29 448.4V450.0M108.36 448.4V450.0M110.87 448.4V450.0M112.99 448.4V450.0M114.83 448.4V450.0M116.45 448.4V450.0M127.44 448.4V450.0M133.02 448.4V450.0M136.99 448.4V450.0M140.06 448.4V450.0M142.57 448.4V450.0M144.69 448.4V450.0M146.53 448.4V450.0M148.15 448.4V450.0M159.14 448.4V450.0M164.72 448.4V450.0M168.69 448.4V450.0M171.76 448.4V450.0M174.27 448.4V450.0M176.39 448.4V450.0M178.23 448.4V450.0M179.85 448.4V450.0" stroke="#231f20" stroke-width="0.7"/>
<text x="47.60" y="451.10" font-size="7.9" text-anchor="end" fill="#231f20" font-weight="normal" textLength="3.80" lengthAdjust="spacingAndGlyphs" stroke="#231f20" stroke-width="0.3">0</text>
<text x="47.60" y="436.40" font-size="7.9" text-anchor="end" fill="#231f20" font-weight="normal" textLength="7.60" lengthAdjust="spacingAndGlyphs" stroke="#231f20" stroke-width="0.3">20</text>
<text x="47.60" y="421.70" font-size="7.9" text-anchor="end" fill="#231f20" font-weight="normal" textLength="7.60" lengthAdjust="spacingAndGlyphs" stroke="#231f20" stroke-width="0.3">40</text>
<text x="47.60" y="407.00" font-size="7.9" text-anchor="end" fill="#231f20" font-weight="normal" textLength="7.60" lengthAdjust="spacingAndGlyphs" stroke="#231f20" stroke-width="0.3">60</text>
<text x="47.60" y="392.30" font-size="7.9" text-anchor="end" fill="#231f20" font-weight="normal" textLength="7.60" lengthAdjust="spacingAndGlyphs" stroke="#231f20" stroke-width="0.3">80</text>
<text x="47.60" y="377.60" font-size="7.9" text-anchor="end" fill="#231f20" font-weight="normal" textLength="11.40" lengthAdjust="spacingAndGlyphs" stroke="#231f20" stroke-width="0.3">100</text>
<text x="47.60" y="362.90" font-size="7.9" text-anchor="end" fill="#231f20" font-weight="normal" textLength="11.40" lengthAdjust="spacingAndGlyphs" stroke="#231f20" stroke-width="0.3">120</text>
<text x="54.80" y="461.60" font-size="7.9" text-anchor="middle" fill="#231f20" font-weight="normal" textLength="17.10" lengthAdjust="spacingAndGlyphs" stroke="#231f20" stroke-width="0.3">0.001</text>
<text x="86.50" y="461.60" font-size="7.9" text-anchor="middle" fill="#231f20" font-weight="normal" textLength="13.30" lengthAdjust="spacingAndGlyphs" stroke="#231f20" stroke-width="0.3">0.01</text>
<text x="118.20" y="461.60" font-size="7.9" text-anchor="middle" fill="#231f20" font-weight="normal" textLength="9.50" lengthAdjust="spacingAndGlyphs" stroke="#231f20" stroke-width="0.3">0.1</text>
<text x="149.90" y="461.60" font-size="7.9" text-anchor="middle" fill="#231f20" font-weight="normal" textLength="3.80" lengthAdjust="spacingAndGlyphs" stroke="#231f20" stroke-width="0.3">1</text>
<text x="181.60" y="461.60" font-size="7.9" text-anchor="middle" fill="#231f20" font-weight="normal" textLength="7.60" lengthAdjust="spacingAndGlyphs" stroke="#231f20" stroke-width="0.3">10</text>
<text x="119.40" y="475.20" font-size="9.2" text-anchor="middle" fill="#231f20" font-weight="normal" textLength="59" lengthAdjust="spacingAndGlyphs" stroke="#231f20" stroke-width="0.3">GW-2580 (μM)</text>
<text x="28.50" y="399.10" font-size="9.6" text-anchor="middle" fill="#231f20" font-weight="normal" textLength="60" lengthAdjust="spacingAndGlyphs" transform="rotate(-90 28.50 399.10)" stroke="#231f20" stroke-width="0.3">% cell viability</text>
<text x="119.1" y="351.30" font-size="9" text-anchor="middle" fill="#231f20" font-weight="normal" textLength="38" lengthAdjust="spacingAndGlyphs" stroke="#231f20" stroke-width="0.3">18-00131</text>
<path d="M73.93 374.90 C79.22 375.05 97.89 375.52 105.69 375.78 C113.50 376.04 115.71 376.16 120.75 376.44 C125.79 376.73 130.86 376.99 135.91 377.47 C140.96 377.95 146.00 378.64 151.04 379.31 C156.08 379.98 161.12 380.51 166.16 381.51 C171.21 382.52 178.78 384.70 181.30 385.34" fill="none" stroke="#8d8c8c" stroke-width="1.2"/>
<g fill="#8d8c8c"><circle cx="73.93" cy="374.90" r="2.1"/><circle cx="105.69" cy="375.78" r="2.1"/><circle cx="120.75" cy="376.59" r="2.1"/><circle cx="135.91" cy="376.59" r="2.1"/><circle cx="151.04" cy="379.90" r="2.1"/><circle cx="166.16" cy="381.22" r="2.1"/><circle cx="181.30" cy="385.34" r="2.1"/></g>
<path d="M73.93 375.52 L75.71 375.61 L77.50 375.71 L79.29 375.83 L81.08 375.97 L82.87 376.12 L84.66 376.30 L86.45 376.50 L88.24 376.72 L90.03 376.98 L91.82 377.26 L93.61 377.58 L95.40 377.93 L97.19 378.32 L98.98 378.75 L100.77 379.22 L102.56 379.74 L104.35 380.29 L106.14 380.89 L107.93 381.52 L109.72 382.19 L111.51 382.89 L113.30 383.62 L115.09 384.36 L116.88 385.12 L118.66 385.88 L120.45 386.64 L122.24 387.39 L124.03 388.12 L125.82 388.82 L127.61 389.50 L129.40 390.14 L131.19 390.74 L132.98 391.30 L134.77 391.82 L136.56 392.30 L138.35 392.73 L140.14 393.13 L141.93 393.49 L143.72 393.81 L145.51 394.10 L147.30 394.36 L149.09 394.59 L150.88 394.79 L152.67 394.97 L154.46 395.13 L156.25 395.26 L158.04 395.39 L159.83 395.49 L161.61 395.59 L163.40 395.67 L165.19 395.74 L166.98 395.80 L168.77 395.86 L170.56 395.90 L172.35 395.94 L174.14 395.98 L175.93 396.01 L177.72 396.04 L179.51 396.06 L181.30 396.08" fill="none" stroke="#e39a45" stroke-width="1.2"/>
<path d="M166.16 396.21V385.19M163.66 396.21h5M163.66 385.19h5" fill="none" stroke="#e39a45" stroke-width="0.9"/>
<g fill="#e39a45"><circle cx="73.93" cy="374.90" r="2.1"/><circle cx="105.69" cy="381.00" r="2.1"/><circle cx="120.75" cy="385.56" r="2.1"/><circle cx="135.91" cy="391.00" r="2.1"/><circle cx="151.04" cy="395.04" r="2.1"/><circle cx="166.16" cy="391.00" r="2.1"/><circle cx="181.30" cy="396.07" r="2.1"/></g>
<path d="M73.93 374.90 C79.22 376.98 97.89 384.53 105.69 387.39 C113.50 390.26 115.71 390.65 120.75 392.10 C125.79 393.54 130.86 394.95 135.91 396.07 C140.96 397.18 146.00 398.10 151.04 398.79 C156.08 399.47 161.12 399.73 166.16 400.18 C171.21 400.64 178.78 401.29 181.30 401.51" fill="none" stroke="#5b3f8e" stroke-width="1.2"/>
<path d="M73.93 379.31V370.49M71.43 379.31h5M71.43 370.49h5" fill="none" stroke="#5b3f8e" stroke-width="0.9"/>
<g fill="#5b3f8e"><circle cx="73.93" cy="374.90" r="2.1"/><circle cx="105.69" cy="387.47" r="2.1"/><circle cx="120.75" cy="392.10" r="2.1"/><circle cx="135.91" cy="396.07" r="2.1"/><circle cx="151.04" cy="398.79" r="2.1"/><circle cx="166.16" cy="400.18" r="2.1"/><circle cx="181.30" cy="401.51" r="2.1"/></g>
<path d="M185.29999999999998 385H188.1V400.9H185.29999999999998" fill="none" stroke="#3a3a3a" stroke-width="1.15"/>
<path d="M192.20000000000002 393.9H194.8V400.9H192.20000000000002" fill="none" stroke="#3a3a3a" stroke-width="1.15"/>
<line x1="190.5" y1="388.2" x2="194.8" y2="385" stroke="#231f20" stroke-width="0.8"/>
<circle cx="196.80" cy="383.3" r="1.05" fill="#231f20"/><circle cx="200.15" cy="383.3" r="1.05" fill="#231f20"/>
<text x="197.5" y="399.1" font-size="7.5" text-anchor="start" fill="#231f20" font-weight="normal" stroke="#231f20" stroke-width="0.12">ns</text>
<path d="M270.4 358.7 V448.4 H400.5" fill="none" stroke="#231f20" stroke-width="1.25"/>
<path d="M267.09999999999997 448.40H270.4M267.09999999999997 433.70H270.4M267.09999999999997 419.00H270.4M267.09999999999997 404.30H270.4M267.09999999999997 389.60H270.4M267.09999999999997 374.90H270.4M267.09999999999997 360.20H270.4M270.50 448.4V451.4M302.20 448.4V451.4M333.90 448.4V451.4M365.60 448.4V451.4M397.30 448.4V451.4" stroke="#231f20" stroke-width="0.9"/>
<path d="M280.04 448.4V450.0M285.62 448.4V450.0M289.59 448.4V450.0M292.66 448.4V450.0M295.17 448.4V450.0M297.29 448.4V450.0M299.13 448.4V450.0M300.75 448.4V450.0M311.74 448.4V450.0M317.32 448.4V450.0M321.29 448.4V450.0M324.36 448.4V450.0M326.87 448.4V450.0M328.99 448.4V450.0M330.83 448.4V450.0M332.45 448.4V450.0M343.44 448.4V450.0M349.02 448.4V450.0M352.99 448.4V450.0M356.06 448.4V450.0M358.57 448.4V450.0M360.69 448.4V450.0M362.53 448.4V450.0M364.15 448.4V450.0M375.14 448.4V450.0M380.72 448.4V450.0M384.69 448.4V450.0M387.76 448.4V450.0M390.27 448.4V450.0M392.39 448.4V450.0M394.23 448.4V450.0M395.85 448.4V450.0" stroke="#231f20" stroke-width="0.7"/>
<text x="263.60" y="451.10" font-size="7.9" text-anchor="end" fill="#231f20" font-weight="normal" textLength="3.80" lengthAdjust="spacingAndGlyphs" stroke="#231f20" stroke-width="0.3">0</text>
<text x="263.60" y="436.40" font-size="7.9" text-anchor="end" fill="#231f20" font-weight="normal" textLength="7.60" lengthAdjust="spacingAndGlyphs" stroke="#231f20" stroke-width="0.3">20</text>
<text x="263.60" y="421.70" font-size="7.9" text-anchor="end" fill="#231f20" font-weight="normal" textLength="7.60" lengthAdjust="spacingAndGlyphs" stroke="#231f20" stroke-width="0.3">40</text>
<text x="263.60" y="407.00" font-size="7.9" text-anchor="end" fill="#231f20" font-weight="normal" textLength="7.60" lengthAdjust="spacingAndGlyphs" stroke="#231f20" stroke-width="0.3">60</text>
<text x="263.60" y="392.30" font-size="7.9" text-anchor="end" fill="#231f20" font-weight="normal" textLength="7.60" lengthAdjust="spacingAndGlyphs" stroke="#231f20" stroke-width="0.3">80</text>
<text x="263.60" y="377.60" font-size="7.9" text-anchor="end" fill="#231f20" font-weight="normal" textLength="11.40" lengthAdjust="spacingAndGlyphs" stroke="#231f20" stroke-width="0.3">100</text>
<text x="263.60" y="362.90" font-size="7.9" text-anchor="end" fill="#231f20" font-weight="normal" textLength="11.40" lengthAdjust="spacingAndGlyphs" stroke="#231f20" stroke-width="0.3">120</text>
<text x="270.80" y="461.60" font-size="7.9" text-anchor="middle" fill="#231f20" font-weight="normal" textLength="17.10" lengthAdjust="spacingAndGlyphs" stroke="#231f20" stroke-width="0.3">0.001</text>
<text x="302.50" y="461.60" font-size="7.9" text-anchor="middle" fill="#231f20" font-weight="normal" textLength="13.30" lengthAdjust="spacingAndGlyphs" stroke="#231f20" stroke-width="0.3">0.01</text>
<text x="334.20" y="461.60" font-size="7.9" text-anchor="middle" fill="#231f20" font-weight="normal" textLength="9.50" lengthAdjust="spacingAndGlyphs" stroke="#231f20" stroke-width="0.3">0.1</text>
<text x="365.90" y="461.60" font-size="7.9" text-anchor="middle" fill="#231f20" font-weight="normal" textLength="3.80" lengthAdjust="spacingAndGlyphs" stroke="#231f20" stroke-width="0.3">1</text>
<text x="397.60" y="461.60" font-size="7.9" text-anchor="middle" fill="#231f20" font-weight="normal" textLength="7.60" lengthAdjust="spacingAndGlyphs" stroke="#231f20" stroke-width="0.3">10</text>
<text x="335.40" y="475.20" font-size="9.2" text-anchor="middle" fill="#231f20" font-weight="normal" textLength="59" lengthAdjust="spacingAndGlyphs" stroke="#231f20" stroke-width="0.3">GW-2580 (μM)</text>
<text x="244.50" y="399.10" font-size="9.6" text-anchor="middle" fill="#231f20" font-weight="normal" textLength="60" lengthAdjust="spacingAndGlyphs" transform="rotate(-90 244.50 399.10)" stroke="#231f20" stroke-width="0.3">% cell viability</text>
<text x="336.3" y="351.30" font-size="9" text-anchor="middle" fill="#231f20" font-weight="normal" textLength="38" lengthAdjust="spacingAndGlyphs" stroke="#231f20" stroke-width="0.3">18-00101</text>
<path d="M289.93 375.78 L291.71 375.95 L293.50 376.14 L295.29 376.37 L297.08 376.64 L298.87 376.94 L300.66 377.28 L302.45 377.65 L304.24 378.06 L306.03 378.50 L307.82 378.97 L309.61 379.46 L311.40 379.96 L313.19 380.46 L314.98 380.95 L316.77 381.43 L318.56 381.88 L320.35 382.30 L322.14 382.69 L323.93 383.04 L325.72 383.35 L327.51 383.63 L329.30 383.87 L331.09 384.08 L332.88 384.26 L334.66 384.41 L336.45 384.54 L338.24 384.65 L340.03 384.74 L341.82 384.82 L343.61 384.88 L345.40 384.93 L347.19 384.98 L348.98 385.02 L350.77 385.05 L352.56 385.07 L354.35 385.09 L356.14 385.11 L357.93 385.12 L359.72 385.14 L361.51 385.14 L363.30 385.15 L365.09 385.16 L366.88 385.16 L368.67 385.17 L370.46 385.17 L372.25 385.18 L374.04 385.18 L375.83 385.18 L377.61 385.18 L379.40 385.18 L381.19 385.18 L382.98 385.19 L384.77 385.19 L386.56 385.19 L388.35 385.19 L390.14 385.19 L391.93 385.19 L393.72 385.19 L395.51 385.19 L397.30 385.19" fill="none" stroke="#8d8c8c" stroke-width="1.2"/>
<path d="M336.75 387.39V382.25M334.25 387.39h5M334.25 382.25h5M351.91 384.45V379.31M349.41 384.45h5M349.41 379.31h5M397.30 384.45V379.31M394.80 384.45h5M394.80 379.31h5" fill="none" stroke="#8d8c8c" stroke-width="0.9"/>
<g fill="#8d8c8c"><circle cx="289.93" cy="374.90" r="2.1"/><circle cx="336.75" cy="384.97" r="2.1"/><circle cx="351.91" cy="381.66" r="2.1"/><circle cx="367.04" cy="388.94" r="2.1"/><circle cx="382.16" cy="388.42" r="2.1"/><circle cx="397.30" cy="381.66" r="2.1"/></g>
<path d="M289.93 375.44 L291.71 375.53 L293.50 375.64 L295.29 375.76 L297.08 375.90 L298.87 376.06 L300.66 376.25 L302.45 376.46 L304.24 376.70 L306.03 376.98 L307.82 377.30 L309.61 377.66 L311.40 378.07 L313.19 378.53 L314.98 379.05 L316.77 379.62 L318.56 380.25 L320.35 380.94 L322.14 381.69 L323.93 382.50 L325.72 383.36 L327.51 384.27 L329.30 385.22 L331.09 386.19 L332.88 387.19 L334.66 388.19 L336.45 389.19 L338.24 390.17 L340.03 391.12 L341.82 392.04 L343.61 392.90 L345.40 393.72 L347.19 394.48 L348.98 395.18 L350.77 395.82 L352.56 396.40 L354.35 396.92 L356.14 397.39 L357.93 397.80 L359.72 398.17 L361.51 398.50 L363.30 398.78 L365.09 399.03 L366.88 399.25 L368.67 399.44 L370.46 399.60 L372.25 399.75 L374.04 399.87 L375.83 399.98 L377.61 400.07 L379.40 400.15 L381.19 400.21 L382.98 400.27 L384.77 400.32 L386.56 400.37 L388.35 400.40 L390.14 400.44 L391.93 400.46 L393.72 400.49 L395.51 400.51 L397.30 400.52" fill="none" stroke="#e39a45" stroke-width="1.2"/>
<path d="M321.69 386.66V382.25M319.19 386.66h5M319.19 382.25h5M351.91 403.56V394.75M349.41 403.56h5M349.41 394.75h5M367.04 408.71V404.30M364.54 408.71h5M364.54 404.30h5M382.16 403.56V395.48M379.66 403.56h5M379.66 395.48h5M397.30 398.42V391.07M394.80 398.42h5M394.80 391.07h5" fill="none" stroke="#e39a45" stroke-width="0.9"/>
<g fill="#e39a45"><circle cx="289.93" cy="374.90" r="2.1"/><circle cx="321.69" cy="384.31" r="2.1"/><circle cx="336.75" cy="389.16" r="2.1"/><circle cx="351.91" cy="399.15" r="2.1"/><circle cx="367.04" cy="406.50" r="2.1"/><circle cx="382.16" cy="399.15" r="2.1"/><circle cx="397.30" cy="395.19" r="2.1"/></g>
<path d="M289.93 375.01 L291.71 375.04 L293.50 375.06 L295.29 375.10 L297.08 375.13 L298.87 375.18 L300.66 375.24 L302.45 375.30 L304.24 375.38 L306.03 375.48 L307.82 375.59 L309.61 375.72 L311.40 375.88 L313.19 376.07 L314.98 376.29 L316.77 376.56 L318.56 376.87 L320.35 377.23 L322.14 377.65 L323.93 378.14 L325.72 378.71 L327.51 379.36 L329.30 380.10 L331.09 380.94 L332.88 381.87 L334.66 382.90 L336.45 384.02 L338.24 385.24 L340.03 386.52 L341.82 387.87 L343.61 389.25 L345.40 390.65 L347.19 392.05 L348.98 393.42 L350.77 394.74 L352.56 396.00 L354.35 397.17 L356.14 398.25 L357.93 399.24 L359.72 400.13 L361.51 400.92 L363.30 401.62 L365.09 402.23 L366.88 402.76 L368.67 403.22 L370.46 403.61 L372.25 403.95 L374.04 404.24 L375.83 404.48 L377.61 404.69 L379.40 404.86 L381.19 405.01 L382.98 405.13 L384.77 405.24 L386.56 405.33 L388.35 405.40 L390.14 405.46 L391.93 405.51 L393.72 405.55 L395.51 405.59 L397.30 405.62" fill="none" stroke="#5b3f8e" stroke-width="1.2"/>
<path d="M289.93 377.10V372.69M287.43 377.10h5M287.43 372.69h5M321.69 382.99V377.10M319.19 382.99h5M319.19 377.10h5M336.75 388.87V383.72M334.25 388.87h5M334.25 383.72h5" fill="none" stroke="#5b3f8e" stroke-width="0.9"/>
<g fill="#5b3f8e"><circle cx="289.93" cy="374.90" r="2.1"/><circle cx="321.69" cy="379.75" r="2.1"/><circle cx="336.75" cy="386.22" r="2.1"/><circle cx="351.91" cy="395.19" r="2.1"/><circle cx="367.04" cy="405.40" r="2.1"/><circle cx="382.16" cy="406.50" r="2.1"/><circle cx="397.30" cy="401.87" r="2.1"/></g>
<path d="M403.5 385H406.9V404.4H403.5" fill="none" stroke="#3a3a3a" stroke-width="1.15"/>
<path d="M410.6 399.8H413.3V404.4H410.6" fill="none" stroke="#3a3a3a" stroke-width="1.15"/>
<line x1="408.6" y1="394.5" x2="412.7" y2="391.9" stroke="#231f20" stroke-width="0.8"/>
<circle cx="415.60" cy="389.6" r="1.05" fill="#231f20"/><circle cx="418.95" cy="389.6" r="1.05" fill="#231f20"/>
<text x="415.4" y="404.6" font-size="7.5" text-anchor="start" fill="#231f20" font-weight="normal" stroke="#231f20" stroke-width="0.12">ns</text>
<line x1="402.9" y1="188.2" x2="417.9" y2="188.2" stroke="#5b3f8e" stroke-width="1.4"/><circle cx="410.4" cy="188.2" r="2.2" fill="#5b3f8e"/>
<text x="421.2" y="190.80" font-size="7.6" text-anchor="start" fill="#231f20" font-weight="normal" textLength="49.5" lengthAdjust="spacingAndGlyphs" stroke="#231f20" stroke-width="0.3">GW-2580 alone</text>
<line x1="402.9" y1="202.5" x2="417.9" y2="202.5" stroke="#e39a45" stroke-width="1.4"/><circle cx="410.4" cy="202.5" r="2.2" fill="#e39a45"/>
<text x="421.2" y="205.10" font-size="7.6" text-anchor="start" fill="#231f20" font-weight="normal" textLength="49.5" lengthAdjust="spacingAndGlyphs" stroke="#231f20" stroke-width="0.3">+ HGF (1ug/ml)</text>
<line x1="402.9" y1="217.1" x2="417.9" y2="217.1" stroke="#8d8c8c" stroke-width="1.4"/><circle cx="410.4" cy="217.1" r="2.2" fill="#8d8c8c"/>
<text x="421.2" y="219.70" font-size="7.6" text-anchor="start" fill="#231f20" font-weight="normal" textLength="85" lengthAdjust="spacingAndGlyphs" stroke="#231f20" stroke-width="0.3">+ HS-5-conditioned media</text>
<text x="8.6" y="503.8" font-size="10.5" text-anchor="start" fill="#231f20" font-weight="normal" stroke="#231f20" stroke-width="0.3">H</text>
<defs>
<radialGradient id="gBlue" gradientUnits="userSpaceOnUse" cx="61" cy="592" r="44"><stop offset="0" stop-color="#dce8e2"/><stop offset="0.35" stop-color="#b8d9e6"/><stop offset="1" stop-color="#55aad8"/></radialGradient>
<radialGradient id="gNuc" gradientUnits="userSpaceOnUse" cx="60" cy="593" r="24"><stop offset="0" stop-color="#d5e6e2"/><stop offset="0.5" stop-color="#7cc0e0"/><stop offset="1" stop-color="#3a9ed2"/></radialGradient>
<radialGradient id="gPurIn" gradientUnits="userSpaceOnUse" cx="196" cy="580" r="36"><stop offset="0" stop-color="#9c80b0"/><stop offset="0.6" stop-color="#8a68a0"/><stop offset="1" stop-color="#7a528f"/></radialGradient>
<radialGradient id="gDeath" gradientUnits="userSpaceOnUse" cx="423" cy="582" r="33"><stop offset="0" stop-color="#bca4c8"/><stop offset="1" stop-color="#a98db6"/></radialGradient>
<radialGradient id="gBlueF" gradientUnits="userSpaceOnUse" cx="331" cy="593" r="44"><stop offset="0" stop-color="#eef3f1"/><stop offset="0.4" stop-color="#dde9ee"/><stop offset="1" stop-color="#c5dff0"/></radialGradient>
<radialGradient id="gNucF" gradientUnits="userSpaceOnUse" cx="330" cy="594" r="24"><stop offset="0" stop-color="#e6efee"/><stop offset="0.5" stop-color="#c3ddec"/><stop offset="1" stop-color="#a9d0ea"/></radialGradient>
</defs>
<ellipse cx="63" cy="588.5" rx="34.8" ry="39.3" fill="url(#gBlue)" stroke="#141414" stroke-width="1.1"/>
<path transform="translate(0 0)" d="M51.5 571.8 C56 571.5 60.5 572.5 62 576 C63 579 60.5 585 59.8 590 C59.5 596 67 601 74 605 C79 608 79.5 614 76 617.5 C71 620.5 60 620 52 617.5 C42 614 36 604 36 593 C36 583 42 572.5 51.5 571.8 Z" fill="url(#gNuc)"/>
<path d="M59.800000000000004 562 V543.9000000000001 L54.2 537.1 L57.900000000000006 533.7 L62.7 539.7 L67.5 533.7 L71.2 537.1 L65.60000000000001 543.9000000000001 V562 Z" fill="#a8c4ab" stroke="#2d3530" stroke-width="0.9" stroke-linejoin="miter"/><line x1="62.7" y1="539.3000000000001" x2="62.7" y2="562" stroke="#2d3530" stroke-width="0.54"/>
<rect x="60.2" y="550.5" width="5" height="11.1" fill="#6fa8a6" fill-opacity="0.6"/><line x1="62.7" y1="550" x2="62.7" y2="562" stroke="#2d3530" stroke-width="0.55"/>
<circle cx="43.8" cy="516.5" r="2.5" fill="#eef0b4" stroke="#333" stroke-width="0.6"/>
<path d="M46 521.2 L51 528.5" fill="none" stroke="#000" stroke-width="1.1"/><path d="M54.4 533.4 L47.6 529.6 L52.8 525.9 Z" fill="#000"/>
<text x="50.1" y="516.9" font-size="7" text-anchor="start" fill="#231f20" font-weight="normal" textLength="16.4" lengthAdjust="spacingAndGlyphs" stroke="#231f20" stroke-width="0.3">CSF1</text>
<text x="75.1" y="538.8" font-size="7" text-anchor="start" fill="#231f20" font-weight="normal" textLength="21.5" lengthAdjust="spacingAndGlyphs" stroke="#231f20" stroke-width="0.3">CSF1R</text>
<text x="61.5" y="638.5" font-size="7.5" text-anchor="middle" fill="#231f20" font-weight="normal" textLength="50" lengthAdjust="spacingAndGlyphs" stroke="#231f20" stroke-width="0.3">supportive cell</text>
<ellipse cx="191.5" cy="585.6" rx="37.6" ry="41.2" fill="#9975a9" stroke="#140e16" stroke-width="1.3"/>
<ellipse cx="193.2" cy="585.3" rx="32.2" ry="33.2" fill="url(#gPurIn)"/>
<g fill="#3b3129" stroke="#3b3129" stroke-width="1.6" stroke-linejoin="round"><circle cx="186.2" cy="527.3" r="4.2"/><circle cx="196.2" cy="527.3" r="4.2"/><path d="M182.6 529 L188.39999999999998 536 V551.7 H194.0 V536 L199.79999999999998 529 L195.2 530 L191.2 532 L187.2 530 Z"/></g><g fill="#eec58e"><circle cx="186.2" cy="527.3" r="4.2"/><circle cx="196.2" cy="527.3" r="4.2"/><path d="M182.6 529 L188.39999999999998 536 V551.7 H194.0 V536 L199.79999999999998 529 L195.2 530 L191.2 532 L187.2 530 Z"/></g><path d="M189.79999999999998 522 L191.2 531 L192.6 522 Z" fill="#fff"/><path d="M189.0 525 L191.2 531.3 L193.39999999999998 525" fill="none" stroke="#3b3129" stroke-width="0.8"/><line x1="191.2" y1="532" x2="191.2" y2="551.7" stroke="#3b3129" stroke-width="0.48"/>
<polygon points="185.40,521.20 186.28,522.99 188.25,523.27 186.83,524.66 187.16,526.63 185.40,525.70 183.64,526.63 183.97,524.66 182.55,523.27 184.52,522.99" fill="#f6d98a" stroke="#1e1a1c" stroke-width="0.9" stroke-linejoin="round"/><polygon points="197.20,521.20 198.08,522.99 200.05,523.27 198.63,524.66 198.96,526.63 197.20,525.70 195.44,526.63 195.77,524.66 194.35,523.27 196.32,522.99" fill="#f6d98a" stroke="#1e1a1c" stroke-width="0.9" stroke-linejoin="round"/>
<rect x="188.6" y="545.2" width="5.2" height="6.1" fill="#b48a58" fill-opacity="0.75"/><line x1="191.2" y1="545" x2="191.2" y2="551.7" stroke="#3b3129" stroke-width="0.5"/>
<path d="M191.1 554.4 V565" stroke="#fff" stroke-width="1.2"/><path d="M187.9 563.5 L191.1 572 L194.3 563.5 Z" fill="#fff"/>
<text x="192.3" y="583.3" font-size="8.3" text-anchor="middle" fill="#f4eef6" font-weight="normal" textLength="55.6" lengthAdjust="spacingAndGlyphs" stroke="#f4eef6" stroke-width="0.3">cell proliferation</text>
<text x="192.4" y="592.8" font-size="8.3" text-anchor="middle" fill="#f4eef6" font-weight="normal" textLength="41" lengthAdjust="spacingAndGlyphs" stroke="#f4eef6" stroke-width="0.3">and survival</text>
<text x="192.9" y="638.4" font-size="7.5" text-anchor="middle" fill="#231f20" font-weight="normal" textLength="33.5" lengthAdjust="spacingAndGlyphs" stroke="#231f20" stroke-width="0.3">AML blast</text>
<text x="201.5" y="538.7" font-size="7.3" text-anchor="start" fill="#231f20" font-weight="normal" textLength="18.5" lengthAdjust="spacingAndGlyphs" stroke="#231f20" stroke-width="0.3">cMET</text>
<text x="138.5" y="520" font-size="7.3" text-anchor="start" fill="#231f20" font-weight="normal" textLength="14.5" lengthAdjust="spacingAndGlyphs" stroke="#231f20" stroke-width="0.3">HGF</text>
<line x1="140.4" y1="522.6" x2="134.6" y2="530" stroke="#231f20" stroke-width="0.8"/>
<text x="126.2" y="613.3" font-size="7.5" text-anchor="middle" fill="#231f20" font-weight="normal" textLength="18.5" lengthAdjust="spacingAndGlyphs" stroke="#231f20" stroke-width="0.3">other</text>
<text x="126.4" y="622.6" font-size="7.5" text-anchor="middle" fill="#231f20" font-weight="normal" textLength="32.8" lengthAdjust="spacingAndGlyphs" stroke="#231f20" stroke-width="0.3">cytokines</text>
<path d="M117.8 605.9 L113.9 588.9 M129.3 605.9 L134.4 597.6 M110.4 616.1 L107 606.5" stroke="#231f20" stroke-width="0.8" fill="none"/>
<path d="M94.1 560.6 C106 547 120 539 131.7 535.6 C145 530 158 525.8 172 524.5" fill="none" stroke="#000" stroke-width="1.15"/><path d="M177.7 524 L170 520.6 L171.6 524.3 L170.3 528 Z" fill="#000"/>
<path d="M100 581.2 C110 574 125 568 147 564.3" fill="none" stroke="#000" stroke-width="1.4" stroke-dasharray="5 2.5"/><path d="M153.9 563.2 L145.6 559.9 L147.4 563.9 L146 567.6 Z" fill="#000"/>
<polygon points="113.10,528.90 113.98,530.69 115.95,530.97 114.53,532.36 114.86,534.33 113.10,533.40 111.34,534.33 111.67,532.36 110.25,530.97 112.22,530.69" fill="#fff" stroke="#fff" stroke-width="2.6" stroke-linejoin="round"/><polygon points="113.10,528.90 113.98,530.69 115.95,530.97 114.53,532.36 114.86,534.33 113.10,533.40 111.34,534.33 111.67,532.36 110.25,530.97 112.22,530.69" fill="#b5dbc3" stroke="#1e1a1c" stroke-width="0.9" stroke-linejoin="round"/><polygon points="131.70,531.30 132.58,533.09 134.55,533.37 133.13,534.76 133.46,536.73 131.70,535.80 129.94,536.73 130.27,534.76 128.85,533.37 130.82,533.09" fill="#fff" stroke="#fff" stroke-width="2.6" stroke-linejoin="round"/><polygon points="131.70,531.30 132.58,533.09 134.55,533.37 133.13,534.76 133.46,536.73 131.70,535.80 129.94,536.73 130.27,534.76 128.85,533.37 130.82,533.09" fill="#f3c878" stroke="#1e1a1c" stroke-width="0.9" stroke-linejoin="round"/><polygon points="152.00,531.60 152.88,533.39 154.85,533.67 153.43,535.06 153.76,537.03 152.00,536.10 150.24,537.03 150.57,535.06 149.15,533.67 151.12,533.39" fill="#fff" stroke="#fff" stroke-width="2.6" stroke-linejoin="round"/><polygon points="152.00,531.60 152.88,533.39 154.85,533.67 153.43,535.06 153.76,537.03 152.00,536.10 150.24,537.03 150.57,535.06 149.15,533.67 151.12,533.39" fill="#8f8cd0" stroke="#1e1a1c" stroke-width="0.9" stroke-linejoin="round"/><polygon points="123.30,545.90 124.18,547.69 126.15,547.97 124.73,549.36 125.06,551.33 123.30,550.40 121.54,551.33 121.87,549.36 120.45,547.97 122.42,547.69" fill="#fff" stroke="#fff" stroke-width="2.6" stroke-linejoin="round"/><polygon points="123.30,545.90 124.18,547.69 126.15,547.97 124.73,549.36 125.06,551.33 123.30,550.40 121.54,551.33 121.87,549.36 120.45,547.97 122.42,547.69" fill="#8f8cd0" stroke="#1e1a1c" stroke-width="0.9" stroke-linejoin="round"/><polygon points="154.80,543.70 155.68,545.49 157.65,545.77 156.23,547.16 156.56,549.13 154.80,548.20 153.04,549.13 153.37,547.16 151.95,545.77 153.92,545.49" fill="#fff" stroke="#fff" stroke-width="2.6" stroke-linejoin="round"/><polygon points="154.80,543.70 155.68,545.49 157.65,545.77 156.23,547.16 156.56,549.13 154.80,548.20 153.04,549.13 153.37,547.16 151.95,545.77 153.92,545.49" fill="#f3c878" stroke="#1e1a1c" stroke-width="0.9" stroke-linejoin="round"/><polygon points="140.90,550.70 141.78,552.49 143.75,552.77 142.33,554.16 142.66,556.13 140.90,555.20 139.14,556.13 139.47,554.16 138.05,552.77 140.02,552.49" fill="#fff" stroke="#fff" stroke-width="2.6" stroke-linejoin="round"/><polygon points="140.90,550.70 141.78,552.49 143.75,552.77 142.33,554.16 142.66,556.13 140.90,555.20 139.14,556.13 139.47,554.16 138.05,552.77 140.02,552.49" fill="#f3c878" stroke="#1e1a1c" stroke-width="0.9" stroke-linejoin="round"/><polygon points="106.30,557.60 107.18,559.39 109.15,559.67 107.73,561.06 108.06,563.03 106.30,562.10 104.54,563.03 104.87,561.06 103.45,559.67 105.42,559.39" fill="#fff" stroke="#fff" stroke-width="2.6" stroke-linejoin="round"/><polygon points="106.30,557.60 107.18,559.39 109.15,559.67 107.73,561.06 108.06,563.03 106.30,562.10 104.54,563.03 104.87,561.06 103.45,559.67 105.42,559.39" fill="#ee9cc0" stroke="#1e1a1c" stroke-width="0.9" stroke-linejoin="round"/><polygon points="139.60,561.60 140.48,563.39 142.45,563.67 141.03,565.06 141.36,567.03 139.60,566.10 137.84,567.03 138.17,565.06 136.75,563.67 138.72,563.39" fill="#fff" stroke="#fff" stroke-width="2.6" stroke-linejoin="round"/><polygon points="139.60,561.60 140.48,563.39 142.45,563.67 141.03,565.06 141.36,567.03 139.60,566.10 137.84,567.03 138.17,565.06 136.75,563.67 138.72,563.39" fill="#ee9cc0" stroke="#1e1a1c" stroke-width="0.9" stroke-linejoin="round"/><polygon points="109.10,571.40 109.98,573.19 111.95,573.47 110.53,574.86 110.86,576.83 109.10,575.90 107.34,576.83 107.67,574.86 106.25,573.47 108.22,573.19" fill="#fff" stroke="#fff" stroke-width="2.6" stroke-linejoin="round"/><polygon points="109.10,571.40 109.98,573.19 111.95,573.47 110.53,574.86 110.86,576.83 109.10,575.90 107.34,576.83 107.67,574.86 106.25,573.47 108.22,573.19" fill="#8f8cd0" stroke="#1e1a1c" stroke-width="0.9" stroke-linejoin="round"/><polygon points="124.30,565.00 125.18,566.79 127.15,567.07 125.73,568.46 126.06,570.43 124.30,569.50 122.54,570.43 122.87,568.46 121.45,567.07 123.42,566.79" fill="#fff" stroke="#fff" stroke-width="2.6" stroke-linejoin="round"/><polygon points="124.30,565.00 125.18,566.79 127.15,567.07 125.73,568.46 126.06,570.43 124.30,569.50 122.54,570.43 122.87,568.46 121.45,567.07 123.42,566.79" fill="#b5dbc3" stroke="#1e1a1c" stroke-width="0.9" stroke-linejoin="round"/><polygon points="128.50,578.30 129.38,580.09 131.35,580.37 129.93,581.76 130.26,583.73 128.50,582.80 126.74,583.73 127.07,581.76 125.65,580.37 127.62,580.09" fill="#fff" stroke="#fff" stroke-width="2.6" stroke-linejoin="round"/><polygon points="128.50,578.30 129.38,580.09 131.35,580.37 129.93,581.76 130.26,583.73 128.50,582.80 126.74,583.73 127.07,581.76 125.65,580.37 127.62,580.09" fill="#f3c878" stroke="#1e1a1c" stroke-width="0.9" stroke-linejoin="round"/><polygon points="143.70,577.90 144.58,579.69 146.55,579.97 145.13,581.36 145.46,583.33 143.70,582.40 141.94,583.33 142.27,581.36 140.85,579.97 142.82,579.69" fill="#fff" stroke="#fff" stroke-width="2.6" stroke-linejoin="round"/><polygon points="143.70,577.90 144.58,579.69 146.55,579.97 145.13,581.36 145.46,583.33 143.70,582.40 141.94,583.33 142.27,581.36 140.85,579.97 142.82,579.69" fill="#8f8cd0" stroke="#1e1a1c" stroke-width="0.9" stroke-linejoin="round"/><polygon points="113.10,582.00 113.98,583.79 115.95,584.07 114.53,585.46 114.86,587.43 113.10,586.50 111.34,587.43 111.67,585.46 110.25,584.07 112.22,583.79" fill="#fff" stroke="#fff" stroke-width="2.6" stroke-linejoin="round"/><polygon points="113.10,582.00 113.98,583.79 115.95,584.07 114.53,585.46 114.86,587.43 113.10,586.50 111.34,587.43 111.67,585.46 110.25,584.07 112.22,583.79" fill="#ee9cc0" stroke="#1e1a1c" stroke-width="0.9" stroke-linejoin="round"/><polygon points="136.30,590.50 137.18,592.29 139.15,592.57 137.73,593.96 138.06,595.93 136.30,595.00 134.54,595.93 134.87,593.96 133.45,592.57 135.42,592.29" fill="#fff" stroke="#fff" stroke-width="2.6" stroke-linejoin="round"/><polygon points="136.30,590.50 137.18,592.29 139.15,592.57 137.73,593.96 138.06,595.93 136.30,595.00 134.54,595.93 134.87,593.96 133.45,592.57 135.42,592.29" fill="#b5dbc3" stroke="#1e1a1c" stroke-width="0.9" stroke-linejoin="round"/><polygon points="106.30,599.20 107.18,600.99 109.15,601.27 107.73,602.66 108.06,604.63 106.30,603.70 104.54,604.63 104.87,602.66 103.45,601.27 105.42,600.99" fill="#fff" stroke="#fff" stroke-width="2.6" stroke-linejoin="round"/><polygon points="106.30,599.20 107.18,600.99 109.15,601.27 107.73,602.66 108.06,604.63 106.30,603.70 104.54,604.63 104.87,602.66 103.45,601.27 105.42,600.99" fill="#8f8cd0" stroke="#1e1a1c" stroke-width="0.9" stroke-linejoin="round"/>
<line x1="235.7" y1="584.6" x2="284" y2="584.6" stroke="#000" stroke-width="1.25"/><path d="M290.9 584.6 L279.6 579.9 L282.9 584.6 L279.6 589.3 Z" fill="#000"/>
<ellipse cx="332.9" cy="589.5" rx="34.6" ry="39.8" fill="url(#gBlueF)" stroke="#5d6d78" stroke-width="0.7"/>
<path transform="translate(270.5 2.0)" d="M51.5 571.8 C56 571.5 60.5 572.5 62 576 C63 579 60.5 585 59.8 590 C59.5 596 67 601 74 605 C79 608 79.5 614 76 617.5 C71 620.5 60 620 52 617.5 C42 614 36 604 36 593 C36 583 42 572.5 51.5 571.8 Z" fill="url(#gNucF)"/>
<path d="M329.6 562.3 V543.3000000000001 L324.0 536.5 L327.7 533.1 L332.5 539.1 L337.3 533.1 L341.0 536.5 L335.4 543.3000000000001 V562.3 Z" fill="#dde9d8" stroke="#a6b2a6" stroke-width="0.7" stroke-linejoin="miter"/><line x1="332.5" y1="538.7" x2="332.5" y2="562.3" stroke="#a6b2a6" stroke-width="0.42"/>
<circle cx="313.5" cy="517.1" r="2.8" fill="#c23545" stroke="#333" stroke-width="0.6"/>
<path d="M316 521.7 L320.5 529" fill="none" stroke="#000" stroke-width="1.1"/><path d="M323.9 533.9 L317.3 530.2 L322.4 526.4 Z" fill="#000"/>
<text x="322.3" y="517.5" font-size="7.4" text-anchor="start" fill="#000" font-weight="normal" textLength="53" lengthAdjust="spacingAndGlyphs" stroke="#000" stroke-width="0.12">CSF1R inhibitor</text>
<text x="347.3" y="540.4" font-size="7" text-anchor="start" fill="#a3a3a3" font-weight="normal" textLength="22.3" lengthAdjust="spacingAndGlyphs" stroke="#a3a3a3" stroke-width="0.3">CSF1R</text>
<text x="331.7" y="637.3" font-size="7.5" text-anchor="middle" fill="#8a8a8a" font-weight="normal" textLength="50.8" lengthAdjust="spacingAndGlyphs" stroke="#8a8a8a" stroke-width="0.3">supportive cell</text>
<ellipse cx="425.7" cy="585.4" rx="37.7" ry="41.2" fill="#dccbe0" stroke="#5a4a5c" stroke-width="0.8"/>
<ellipse cx="423.3" cy="585.4" rx="28" ry="31.7" fill="url(#gDeath)"/>
<g fill="#cdbfae" stroke="#cdbfae" stroke-width="1.2" stroke-linejoin="round"><circle cx="420.9" cy="527.3" r="4.2"/><circle cx="430.9" cy="527.3" r="4.2"/><path d="M417.29999999999995 529 L423.09999999999997 536 V550.8 H428.7 V536 L434.5 529 L429.9 530 L425.9 532 L421.9 530 Z"/></g><g fill="#f1dcbe"><circle cx="420.9" cy="527.3" r="4.2"/><circle cx="430.9" cy="527.3" r="4.2"/><path d="M417.29999999999995 529 L423.09999999999997 536 V550.8 H428.7 V536 L434.5 529 L429.9 530 L425.9 532 L421.9 530 Z"/></g><path d="M424.5 522 L425.9 531 L427.29999999999995 522 Z" fill="#fff"/><path d="M423.7 525 L425.9 531.3 L428.09999999999997 525" fill="none" stroke="#cdbfae" stroke-width="0.6"/><line x1="425.9" y1="532" x2="425.9" y2="550.8" stroke="#cdbfae" stroke-width="0.36"/>
<polygon points="421.00,521.70 421.76,523.25 423.47,523.50 422.24,524.70 422.53,526.40 421.00,525.60 419.47,526.40 419.76,524.70 418.53,523.50 420.24,523.25" fill="#ffffff" stroke="#1e1a1c" stroke-width="0" stroke-linejoin="round"/><polygon points="430.80,521.70 431.56,523.25 433.27,523.50 432.04,524.70 432.33,526.40 430.80,525.60 429.27,526.40 429.56,524.70 428.33,523.50 430.04,523.25" fill="#ffffff" stroke="#1e1a1c" stroke-width="0" stroke-linejoin="round"/>
<rect x="423.5" y="544.5" width="4.8" height="6.2" fill="#c9ae8c" fill-opacity="0.6"/>
<path d="M401.9 561.8 L449.2 608 M449.2 561.8 L401.9 608" stroke="#c0606a" stroke-width="3.9"/>
<text x="426.2" y="638.5" font-size="7.6" text-anchor="middle" fill="#000" font-weight="normal" textLength="33" lengthAdjust="spacingAndGlyphs" stroke="#000" stroke-width="0.12">cell death</text>
<path d="M0.95 0 V648" stroke="#4a4a4a" stroke-width="1.9"/><path d="M0 0.8 H520" stroke="#4a4a4a" stroke-width="1.6"/>
<path d="M519.4 0 V648" stroke="#1a1a1a" stroke-width="1.2"/><path d="M0 647.1 H520" stroke="#4a4a4a" stroke-width="1.8"/>
</svg></body></html>
